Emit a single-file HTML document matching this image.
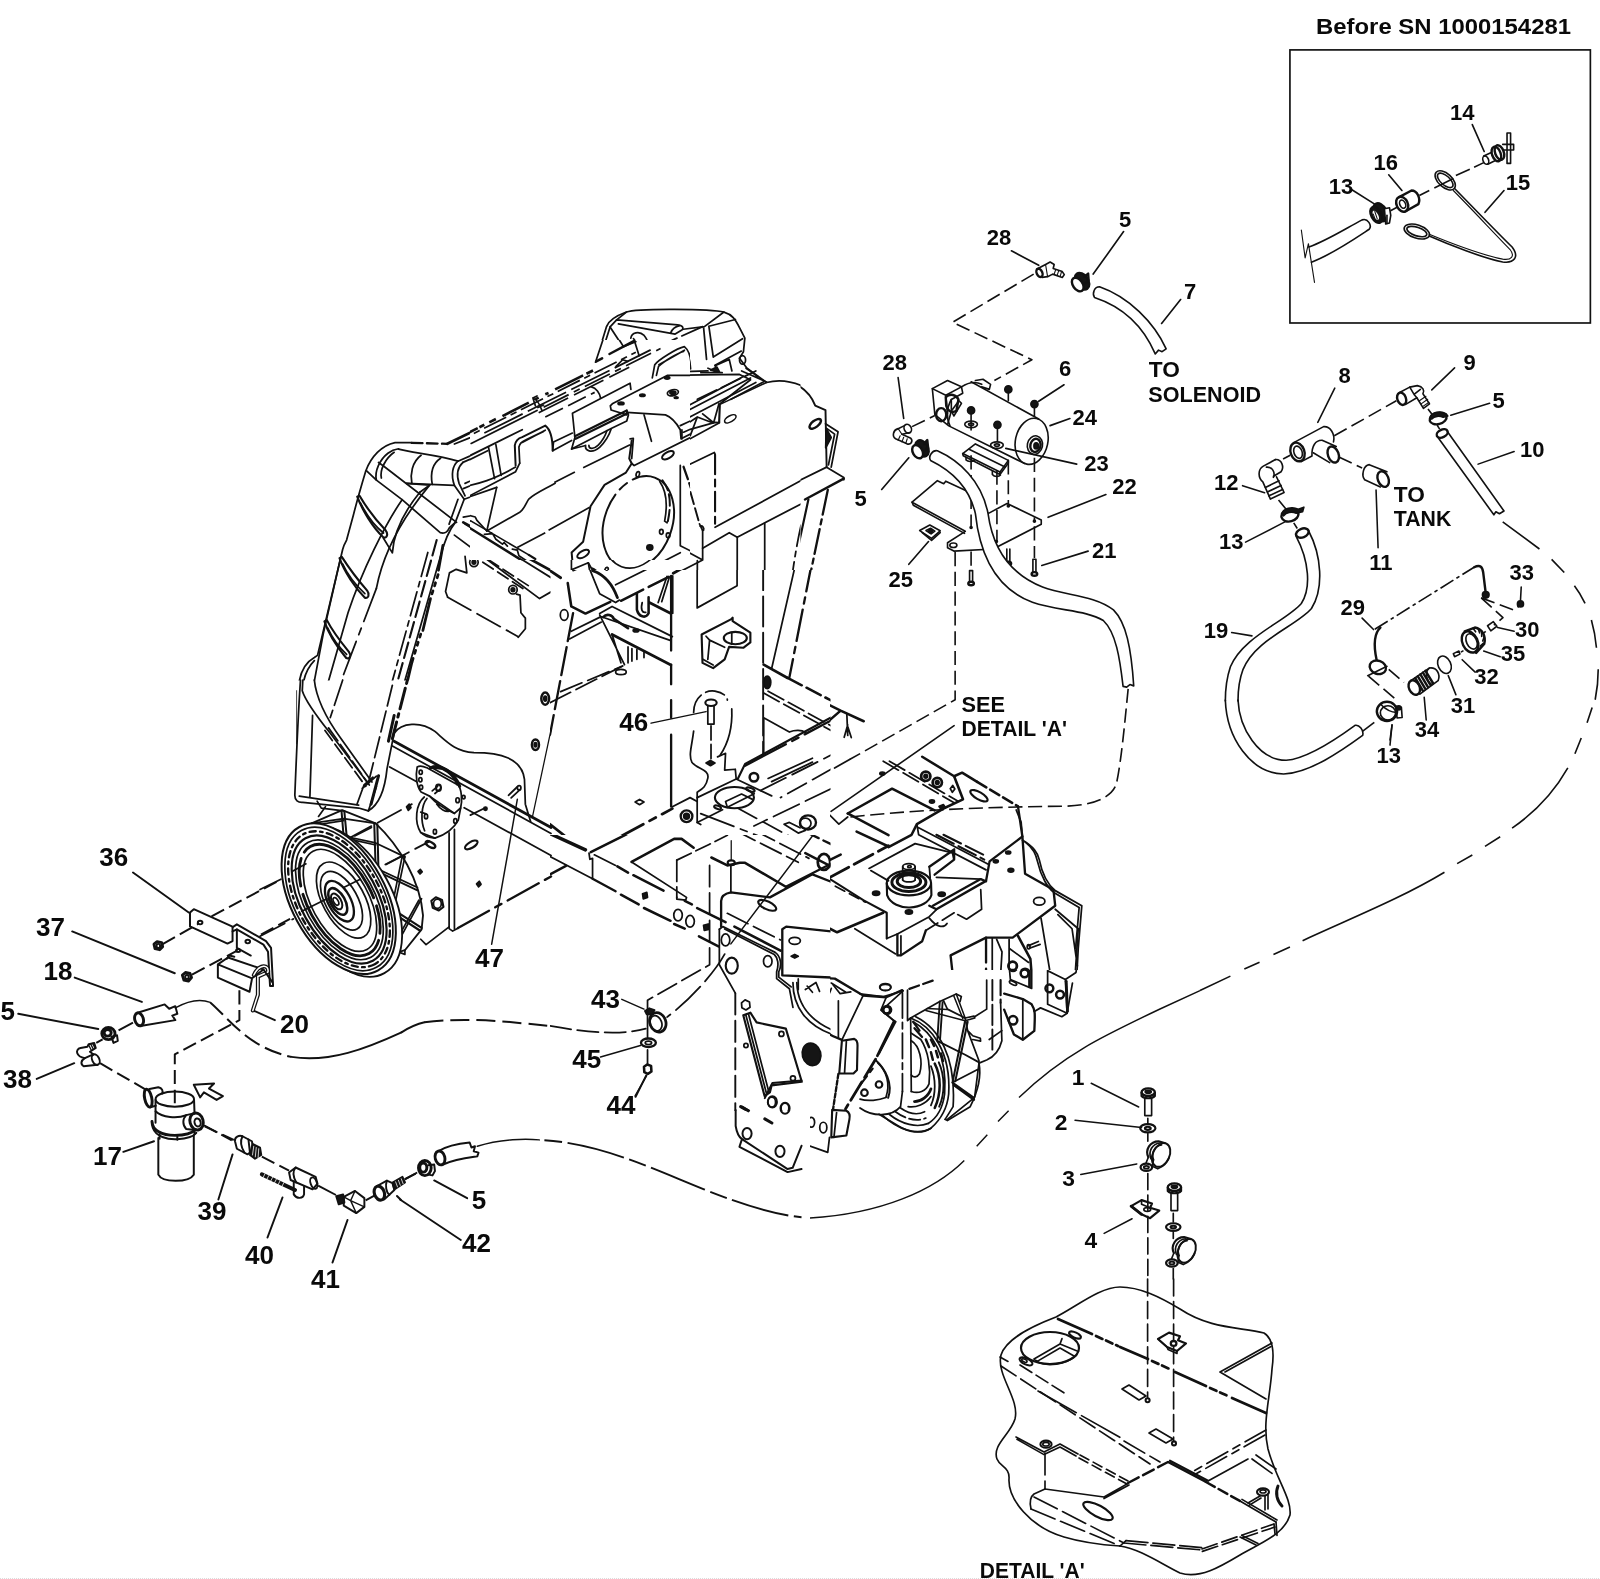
<!DOCTYPE html>
<html><head><meta charset="utf-8"><title>Parts diagram</title>
<style>
html,body{margin:0;padding:0;background:#fff;}
body{width:1600px;height:1579px;overflow:hidden;font-family:"Liberation Sans",sans-serif;}
svg{display:block;position:absolute;left:0;top:0;}
svg text{font-family:"Liberation Sans",sans-serif;font-weight:bold;fill:#0a0a0a;}
.t{fill:none;stroke:#111;stroke-width:6.4;stroke-linecap:round;stroke-linejoin:round;}
.t path,.t ellipse,.t rect,.t circle,.t line,.t polyline,.t polygon{vector-effect:none;}
.k{fill:#151515;}
.w{fill:#fff;}
.hv{stroke-width:9.6;}
.L{stroke-width:7.8;}
.L .hv{stroke-width:11.5;}
.L .th{stroke-width:5.5;}
.th{stroke-width:4.4;}
.d1{stroke-dasharray:56 22;stroke-linecap:butt;}
.d2{stroke-dasharray:42 12 10 12;stroke-linecap:butt;}
.ld{fill:none;stroke:#111;stroke-width:1.65;stroke-linecap:round;}
</style></head><body>
<svg width="1600" height="1579" viewBox="0 0 1600 1579">
<rect x="0" y="0" width="1600" height="1579" fill="#fff"/>
<!-- 00_defs.svg -->
<defs>
<clipPath id="cM1a"><path clip-rule="evenodd" d="M550.5,290 L800.5,290 L800.5,570 L550.5,570 Z M550.5,340 L690,340 L690,560 L550.5,560 Z"/></clipPath>
<clipPath id="cM2"><path clip-rule="evenodd" d="M260,395 L550.5,395 L550.5,680.5 L260,680.5 Z M470,395 L550.5,395 L550.5,560 L470,560 Z"/></clipPath>
<clipPath id="cM4"><rect x="550" y="570" width="280.5" height="265"/></clipPath>
<clipPath id="cM5"><rect x="550" y="835" width="280.5" height="276"/></clipPath>
<clipPath id="cM7"><rect x="830" y="700" width="281" height="270"/></clipPath>
<clipPath id="cM8"><path d="M830,970 L1090.5,970 L1090.5,1241 L810,1241 L810,1110.5 L830,1110.5 Z"/></clipPath>
<clipPath id="cM6"><rect x="800.5" y="355" width="110" height="215"/></clipPath>
<clipPath id="cM9"><rect x="470" y="340" width="220" height="220"/></clipPath>
</defs>

<!-- 10_inset.svg -->
<g class="t" transform="translate(1200,0) scale(0.253325)">
<rect x="355" y="197" width="1186" height="1078" stroke-width="6.6" stroke-linejoin="miter"/>
<!-- hose -->
<path d="M430,975 C500,950 570,905 640,868 C662,860 680,890 668,905 C600,950 520,1005 440,1035"/>
<path d="M400,908 L415,1018 L428,962 L452,1115" class="th"/>
<!-- clamp 13 -->
<ellipse cx="712" cy="838" rx="24" ry="38" transform="rotate(-28 712 838)" class="hv k"/>
<ellipse cx="696" cy="848" rx="20" ry="34" transform="rotate(-28 696 848)" class="hv k"/>
<ellipse cx="694" cy="850" rx="9" ry="20" transform="rotate(-28 694 850)" fill="#fff" stroke="none"/>
<path d="M690,835 L700,865 M684,845 L694,872" stroke="#111" stroke-width="4"/>
<path d="M728,824 L748,820 L753,850 L748,880 L733,884 Z" class="w"/>
<path d="M738,850 L738,882"/>
<!-- bushing 16 -->
<ellipse cx="798" cy="806" rx="22" ry="31" transform="rotate(-25 798 806)" class="hv"/>
<ellipse cx="800" cy="806" rx="11" ry="17" transform="rotate(-25 800 806)"/>
<path d="M786,778 L835,752 C858,752 872,785 862,806 L812,834" class="hv"/>
<!-- dashed axis -->
<path d="M752,832 L778,818 M866,772 L905,752 M925,742 L1000,705 M1010,693 L1065,668 M1082,660 L1120,642" stroke-linecap="butt"/>
<!-- ring 1 -->
<ellipse cx="968" cy="712" rx="48" ry="27" transform="rotate(42 968 712)"/>
<ellipse cx="968" cy="712" rx="38" ry="18" transform="rotate(42 968 712)"/>
<!-- cable -->
<path d="M1006,745 C1060,800 1180,925 1232,975 C1262,1015 1240,1040 1195,1034 C1120,1020 980,965 905,932"/>
<path d="M1000,752 C1060,812 1170,930 1224,985 C1245,1012 1228,1028 1195,1023 C1120,1008 985,958 905,925" class="th"/>
<!-- ring 2 -->
<ellipse cx="856" cy="914" rx="52" ry="26" transform="rotate(18 856 914)"/>
<ellipse cx="856" cy="914" rx="41" ry="17" transform="rotate(18 856 914)"/>
<!-- valve 14 -->
<ellipse cx="1128" cy="632" rx="11" ry="17" transform="rotate(-20 1128 632)"/>
<path d="M1120,616 L1150,602 M1136,648 L1166,634"/>
<ellipse cx="1170" cy="608" rx="17" ry="30" transform="rotate(-20 1170 608)" class="hv"/>
<ellipse cx="1182" cy="602" rx="17" ry="30" transform="rotate(-20 1182 602)" class="hv"/>
<path d="M1212,525 L1212,645 L1226,645 L1226,525 Z"/>
<path d="M1195,570 L1238,570 L1238,592 L1198,592"/>
</g>

<!-- 20_motor.svg -->
<g class="t" transform="translate(850,150) scale(0.253325)">
<!-- fitting 28 top -->
<ellipse cx="748" cy="485" rx="11" ry="17" transform="rotate(-25 748 485)" class="hv"/>
<path d="M738,470 L772,452 L790,442 L806,452 L802,468 L838,480 L846,492 L838,503 L800,490 L780,500 L758,503" />
<path d="M772,452 L780,500 M812,472 L806,490 M824,476 L818,494 M835,480 L830,498" class="th"/>
<!-- dashed zigzag -->
<path d="M725,490 L405,680 L718,828 L570,910" class="d1"/>
<!-- clamp 5 top -->
<ellipse cx="916" cy="518" rx="24" ry="36" transform="rotate(-35 916 518)" class="hv k"/>
<ellipse cx="899" cy="531" rx="19" ry="30" transform="rotate(-35 899 531)" class="hv w"/>
<path d="M925,500 L940,488 L942,515 L930,525" class="hv"/>
<!-- hose 7 -->
<path d="M1205,805 C1160,700 1080,620 965,582 C955,565 965,540 985,540 C1100,580 1200,680 1248,785 L1232,796 L1218,790 L1205,805"/>
<!-- motor body -->
<path d="M478,915 L745,1062" />
<path d="M388,1088 L690,1238" />
<ellipse cx="717" cy="1150" rx="64" ry="92" transform="rotate(12 717 1150)"/>
<ellipse cx="730" cy="1165" rx="30" ry="37" transform="rotate(12 730 1165)"/>
<ellipse cx="732" cy="1166" rx="20" ry="26" transform="rotate(12 732 1166)" class="hv"/>
<ellipse cx="735" cy="1168" rx="9" ry="12" class="k"/>
<!-- left end housing -->
<path d="M325,942 L385,910 L440,935 L445,960 L400,985 L400,1030 L385,1085 L335,1045 Z"/>
<path d="M325,942 L378,968 L440,935 M378,968 L385,1040"/>
<path d="M378,975 C395,960 420,965 428,985 L420,1030 C400,1040 385,1030 380,1010 Z" class="hv"/>
<ellipse cx="360" cy="1045" rx="20" ry="26" class="hv"/>
<path d="M400,1030 L430,990 L440,1000 L410,1050 Z"/>
<path d="M440,935 C470,915 500,915 520,925"/>
<path d="M495,910 L525,905 L555,925 L550,945 L520,935"/>
<path d="M400,985 C380,1020 380,1060 395,1090"/>
<!-- bolts 6 -->
<circle cx="625" cy="945" r="14" class="k"/><path d="M625,955 L625,990"/>
<circle cx="728" cy="1003" r="14" class="k"/><path d="M728,1012 L728,1050"/>
<circle cx="478" cy="1028" r="14" class="k"/><path d="M478,1040 L478,1105"/>
<circle cx="582" cy="1085" r="14" class="k"/><path d="M582,1095 L582,1150"/>
<!-- washers 23 -->
<ellipse cx="478" cy="1083" rx="25" ry="13"/><ellipse cx="478" cy="1083" rx="10" ry="5"/>
<ellipse cx="580" cy="1165" rx="25" ry="13"/><ellipse cx="580" cy="1165" rx="10" ry="5"/>
<!-- fitting 28 left -->
<ellipse cx="228" cy="1100" rx="14" ry="18" transform="rotate(-25 228 1100)"/>
<path d="M215,1088 L190,1100 C170,1105 165,1130 180,1140 L225,1160 C240,1165 250,1150 240,1138 L205,1122 L238,1115"/>
<path d="M190,1100 L205,1122 M198,1128 L190,1146 M212,1134 L205,1152 M226,1140 L220,1158" class="th"/>
<path d="M245,1092 L335,1048" class="d1"/>
<!-- clamp 5 left -->
<ellipse cx="284" cy="1178" rx="24" ry="34" transform="rotate(-30 284 1178)" class="hv k"/>
<ellipse cx="267" cy="1191" rx="19" ry="28" transform="rotate(-30 267 1191)" class="hv w"/>
<path d="M292,1160 L305,1145 L308,1172 L298,1185" class="hv"/>
</g>

<!-- 21_plate.svg -->
<g class="t" transform="translate(850,430) scale(0.253325)">
<!-- bracket under motor -->
<path d="M445,93 L495,55 L625,120 L592,166 Z" class="w"/>
<path d="M445,93 L447,102 L592,176 L592,166 M592,176 L625,130 L625,120"/>
<path d="M470,76 L612,146"/>
<path d="M458,108 L458,118 C466,126 482,126 490,120 L490,122"/>
<path d="M562,162 L562,176 C570,186 588,186 594,178"/>
<!-- plate 22 -->
<path d="M245,285 L345,200 L370,212 L378,202 L480,250 L545,330 L620,290 L755,355 L755,372 L565,470 L410,478 L385,465 L385,445 L455,400 Z" class="w"/>
<path d="M245,285 L250,297 L452,408"/>
<ellipse cx="408" cy="455" rx="14" ry="9"/>
<circle cx="478" cy="385" r="4" class="k"/><circle cx="578" cy="440" r="4" class="k"/><circle cx="625" cy="300" r="4" class="k"/><circle cx="728" cy="360" r="4" class="k"/>
<!-- clip 25 -->
<path d="M275,397 L315,375 L356,398 L322,428 Z"/>
<path d="M300,397 L318,388 L335,399 L320,410 Z"/><circle cx="318" cy="399" r="7" class="k"/>
<path d="M285,405 L322,436 L356,405"/>
<!-- screws 21 -->
<path d="M472,555 L472,600 M484,555 L484,600 M472,555 L484,555"/><ellipse cx="478" cy="606" rx="11" ry="7" class="hv"/>
<path d="M619,470 L619,522 M631,470 L631,522"/><ellipse cx="625" cy="527" rx="11" ry="7" class="hv"/>
<path d="M722,510 L722,562 M734,510 L734,562 M722,510 L734,510"/><ellipse cx="728" cy="568" rx="11" ry="7" class="hv"/>
<path d="M574,505 L574,540 M586,505 L586,540"/>
<!-- dashed verticals -->
<path d="M478,100 L478,385" class="d1"/>
<path d="M580,160 L580,440" class="d1"/>
<path d="M625,120 L625,300" class="d1"/>
<path d="M728,110 L728,355 M728,380 L728,505" class="d1"/>
<path d="M478,480 L478,555" class="d1"/>
<path d="M415,482 L415,1065 L0,1300" class="d1"/>
<!-- hose from motor -->
<path d="M1078,1012 C1065,900 1050,800 1000,752 C930,710 820,715 720,680 C560,620 510,470 495,330 C470,220 400,160 318,120 C308,105 325,78 345,82 C430,120 520,200 545,330 C560,440 610,560 760,620 C850,655 960,650 1040,710 C1090,760 1110,860 1120,1010 L1105,1005 L1092,1015 Z" class="w"/>
<!-- dashed from hose end -->
<path d="M1098,1022 C1085,1150 1072,1300 1052,1395 C1035,1455 950,1482 850,1485 C600,1488 300,1495 0,1528" class="d1"/>
<!-- see detail leader -->

</g>

<!-- 30_right.svg -->
<g class="t" transform="translate(1200,340) scale(0.253325)">
<!-- leaders -->
<path d="M1005,110 L915,197 M532,190 L465,325 M1143,250 L990,297 M1240,440 L1098,490 M168,575 L255,603 M180,798 L335,718 M695,592 L703,820 M1268,975 L1265,1030 M640,1098 L685,1143 M1240,1150 L1175,1135 M1185,1250 L1120,1228 M1085,1310 L1035,1262 M1010,1400 L980,1325 M893,1500 L885,1410 M125,1155 L205,1168 M758,1520 L750,1579" stroke-width="6.2"/>
<!-- tee 8 -->
<path d="M370,405 L488,342 C515,340 534,372 527,402"/>
<path d="M400,480 L442,458 C440,420 455,395 482,396 L538,420"/>
<path d="M447,445 L512,484"/>
<ellipse cx="385" cy="442" rx="27" ry="38" transform="rotate(-20 385 442)" class="hv"/>
<ellipse cx="387" cy="443" rx="16" ry="25" transform="rotate(-20 387 443)"/>
<ellipse cx="526" cy="452" rx="21" ry="33" transform="rotate(-20 526 452)" class="hv"/>
<!-- elbow 12 -->
<path d="M298,472 C322,470 334,500 320,520 L290,538"/>
<path d="M298,472 L250,498 C226,512 230,545 248,560 L278,628 L332,602 L302,540"/>
<path d="M262,502 C285,500 298,522 290,542"/>
<path d="M258,582 L312,556 M266,600 L320,574 M272,615 L326,590" />
<path d="M328,470 L356,455" stroke-linecap="butt"/>
<!-- dashed tee to 9 / 11 -->
<path d="M530,378 L775,240" class="d1"/>
<path d="M548,462 L640,505" class="d1"/>
<!-- tube 11 -->
<path d="M668,492 L738,520 M650,552 L712,580 M668,492 C645,495 636,535 650,552"/>
<ellipse cx="723" cy="549" rx="21" ry="32" transform="rotate(-22 723 549)" class="hv"/>
<!-- elbow 9 -->
<ellipse cx="796" cy="232" rx="17" ry="25" transform="rotate(-20 796 232)" class="hv"/>
<path d="M786,208 L828,186 L858,180 C880,184 888,200 880,212 L906,252 L882,270 L856,228 L812,254"/>
<path d="M828,186 L845,215 L856,228 M845,215 L870,195"/>
<path d="M866,240 L892,222 M873,252 L899,234 M880,262 L904,246" class="th"/>
<path d="M900,272 L915,292 M936,336 L946,352" stroke-linecap="butt"/>
<!-- clamp 5 -->
<ellipse cx="940" cy="310" rx="34" ry="22" transform="rotate(-15 940 310)" class="hv"/>
<path d="M908,305 C915,285 950,278 972,292 L978,300 L960,305 C945,298 925,300 915,312 Z" class="k"/>
<!-- tube 10 -->
<ellipse cx="956" cy="369" rx="23" ry="15" transform="rotate(-25 956 369)" class="hv"/>
<path d="M936,380 L1160,690 L1168,678 L1182,686 L1200,675 L977,362"/>
<!-- big dashed curve -->
<path d="M1195,718 L1340,825 M1388,866 L1438,918 M1478,970 C1495,992 1508,1015 1520,1040 M1545,1105 C1555,1140 1562,1180 1565,1215 M1572,1300 C1572,1340 1568,1380 1560,1420" stroke-linecap="butt"/>
<!-- hose 19 -->
<path d="M428,752 C480,850 490,980 440,1060 C380,1130 220,1180 170,1300 C155,1340 150,1380 150,1425"/>
<path d="M380,776 C430,870 440,980 400,1040 C340,1110 170,1170 120,1290 C105,1335 100,1380 100,1425"/>
<ellipse cx="404" cy="762" rx="26" ry="17" transform="rotate(-22 404 762)" class="hv"/>
<!-- clamp 13 upper -->
<ellipse cx="355" cy="692" rx="34" ry="24" transform="rotate(-15 355 692)" class="hv"/>
<path d="M322,685 C330,665 362,655 388,668 L410,660 L405,678 L380,684 C362,676 340,680 330,694 Z" class="k"/>
<path d="M310,632 L340,668 M370,722 L384,744" stroke-linecap="butt"/>
<!-- cable 29 -->
<path d="M690,1142 L1082,897" stroke-dasharray="60 14 14 14" stroke-linecap="butt"/>
<path d="M1082,897 C1108,884 1115,898 1118,918 L1128,1000" class="hv"/>
<circle cx="1128" cy="1006" r="13" class="k"/>
<path d="M712,1135 C685,1160 685,1205 697,1262" class="hv"/>
<ellipse cx="702" cy="1292" rx="33" ry="26" transform="rotate(20 702 1292)" class="hv"/>
<!-- 33 bracket dashes -->
<circle cx="1265" cy="1042" r="12" class="k"/>
<path d="M1110,1018 L1240,1066 L1262,1048" class="d1"/>
<path d="M1110,1018 L1196,1096 L1160,1126" class="d1"/>
<!-- 30 -->
<path d="M1135,1128 L1158,1112 L1172,1130 L1148,1148 Z"/>
<path d="M1128,1150 L1115,1160" stroke-linecap="butt"/>
<!-- nut 35 -->
<ellipse cx="1066" cy="1192" rx="30" ry="44" transform="rotate(-25 1066 1192)" class="hv"/>
<ellipse cx="1072" cy="1190" rx="20" ry="32" transform="rotate(-25 1072 1190)"/>
<path d="M1045,1150 L1085,1135 C1115,1140 1130,1170 1122,1200 L1090,1235" class="hv"/>
<path d="M1060,1145 L1068,1160 M1078,1138 L1088,1152 M1098,1140 L1104,1156 M1112,1152 L1112,1170 M1122,1172 L1116,1188 M1118,1198 L1106,1208" />
<!-- 32 pin -->
<path d="M1000,1238 L1022,1228 L1026,1240 L1005,1250 Z"/>
<path d="M1030,1232 L1040,1226" stroke-linecap="butt"/>
<!-- o-ring 31 -->
<ellipse cx="965" cy="1282" rx="25" ry="36" transform="rotate(-25 965 1282)"/>
<!-- fitting 34 -->
<ellipse cx="846" cy="1372" rx="21" ry="30" transform="rotate(-25 846 1372)" class="hv"/>
<path d="M832,1345 L905,1295 C935,1290 950,1320 940,1345 L868,1398"/>
<path d="M850,1335 L880,1385 M860,1328 L890,1378 M870,1320 L900,1370 M880,1313 L910,1362 M890,1306 L920,1355" class="hv"/>
<path d="M905,1295 C885,1310 895,1350 915,1360"/>
<!-- ring to fitting dashes -->
<path d="M745,1300 L805,1352" class="d1"/>
<path d="M738,1288 L662,1325" />
<path d="M665,1327 L780,1425" class="d1"/>
<!-- clamp 13 lower -->
<ellipse cx="738" cy="1466" rx="40" ry="38" class="hv"/>
<ellipse cx="742" cy="1472" rx="30" ry="28"/>
<path d="M772,1445 L795,1450 L798,1490 L778,1492 Z"/>
<circle cx="785" cy="1452" r="8" class="k"/>
<path d="M715,1440 C735,1460 755,1470 775,1470" />
<!-- hose end -->

</g>

<!-- 31_right_low.svg -->
<g class="t" transform="translate(1200,700) scale(0.253325)">
<path d="M100,0 C105,150 200,290 330,292 C430,290 560,200 642,140 C648,120 628,96 612,100 C530,160 420,232 340,238 C230,238 155,110 150,0"/>
<path d="M640,125 L688,88" stroke-linecap="butt"/>
<path d="M758,98 L750,178" stroke-width="6.2"/>
<path d="M1548,30 L1528,90 M1505,150 L1480,212 M1452,268 C1400,360 1320,445 1232,506 M1185,540 L1125,578 M1075,612 L1015,646 M965,680 C800,780 600,860 405,950 M355,975 L290,1005 M235,1035 L175,1062 M120,1090 L0,1147" stroke-linecap="butt"/>
</g>

<!-- 35_curve.svg -->
<g class="ld" style="stroke-width:1.45;stroke-linecap:butt">
<path d="M1200,990.6 L1160,1009 C1120,1028 1100,1038 1084,1047.8 C1060,1062 1035,1082 1019,1097.5"/>
<path d="M1008.6,1110.7 L998,1121.4 M987.3,1134.7 L976.7,1146.2"/>
<path d="M964.3,1160.4 C934,1190.5 881,1213.6 810,1218"/>
</g>

<!-- 36_leaders.svg -->
<g class="ld">
<path d="M1472.3,124.6 L1484.2,151.5 M1388.7,174.8 L1401.9,190.5 M1351.5,189.5 L1374.3,203.9 M1504,190.5 L1485,212.3"/>
<path d="M1011.4,250.8 L1038.7,265.3 M1123.6,231.6 L1093.2,274.1 M1180.6,299.5 L1161.6,323.5 M898.1,377.5 L903.7,418.5 M1064,384.8 L1038.7,401.3 M1069.9,418.5 L1050.1,425.6 M1076.7,464.1 L1005.8,448.4 M1105.9,494.5 L1048.1,517.3 M881.7,489.5 L908.8,457.8 M1088.1,551.1 L1041.8,565.5 M908.8,564.3 L928.5,541.5"/>
<path style="stroke-width:2" d="M267.5,1237.5 L282.5,1197.5 M332.5,1262.5 L347.5,1220 M397,1196 L401,1200"/>
<path d="M401.5,1032.3 C410,1027 417,1024 424.5,1022.3" style="stroke-width:2"/>
<path d="M424.5,1022.3 C450,1019 480,1019.5 510,1022 C530,1024 540,1025 550,1026" stroke-dasharray="19 7" style="stroke-linecap:butt;stroke-width:2"/>
</g>

<!-- 40_leftlow.svg -->
<g class="t L" transform="translate(0,820) scale(0.253325)">
<!-- leaders -->
<path d="M525,207 L745,365 M285,440 L690,605 M295,622 L560,718 M72,765 L388,825 M145,1022 L293,960 M487,1310 L608,1268 M1085,790 L1000,752 M862,1498 L918,1320" stroke-width="7.6"/>
<!-- bracket 36 -->
<path d="M750,365 L765,352 L920,422 L935,412 L1050,478 L1070,505 L1078,655 L1066,655 L1058,520 L1040,492 L935,432 L918,440 L918,478 L898,488 L750,420 Z"/>
<path d="M918,440 L918,422 M935,432 L935,505 L990,535"/>
<ellipse cx="790" cy="405" rx="9" ry="7"/><ellipse cx="978" cy="480" rx="9" ry="7"/><ellipse cx="940" cy="515" rx="8" ry="6"/>
<!-- dashes to wheel -->
<path d="M835,380 L1110,235" class="d1"/>
<path d="M1030,452 L1145,390" class="d1"/>
<path d="M642,490 L782,410" class="d1"/>
<path d="M758,610 L938,515" class="d1"/>
<!-- nuts 37 -->
<path d="M608,490 L620,480 L638,484 L642,500 L630,512 L612,508 Z" class="hv"/><ellipse cx="625" cy="497" rx="7" ry="8"/>
<path d="M720,612 L732,602 L750,606 L756,622 L744,636 L726,632 Z" class="hv"/><ellipse cx="738" cy="620" rx="7" ry="8"/>
<!-- box 20 -->
<path d="M860,570 L900,543 L1040,590 L995,625 Z M860,570 L860,622 L985,678 L995,625"/>
<path d="M895,548 L905,535 L925,540"/>
<path d="M1002,612 C1025,565 1062,570 1058,600 L1018,618 L1018,690 L998,752" stroke-width="16"/>
<path d="M1002,612 C1025,565 1062,570 1058,600 L1018,618 L1018,690 L998,752" stroke="#fff" stroke-width="6"/>
<path d="M1040,590 L1075,640" />
<!-- dashed from box to filter -->
<path d="M945,672 L945,790 L690,925 L690,1118" class="d1"/>
<!-- hose 18 -->
<path d="M540,762 L650,728 L668,745 L692,735 L700,765 L680,772 L692,790 L560,812"/>
<ellipse cx="549" cy="787" rx="17" ry="26" transform="rotate(-15 549 787)" class="hv"/>
<path d="M692,742 C740,715 790,705 830,720" class="th" stroke-width="4.5"/>
<path d="M830,720 C900,780 980,900 1150,935" stroke-dasharray="70 24" stroke-linecap="butt"/>
<path d="M1150,935 C1300,960 1450,900 1585,838"/>
<path d="M525,800 L468,830 M405,866 L380,880" stroke-linecap="butt"/>
<!-- clamp 5 -->
<ellipse cx="428" cy="843" rx="26" ry="24" class="hv"/>
<ellipse cx="425" cy="840" rx="14" ry="13" class="hv"/>
<path d="M440,855 L462,850 L465,872 L448,880 Z"/>
<!-- elbow 38 -->
<ellipse cx="378" cy="946" rx="14" ry="22" transform="rotate(-25 378 946)"/>
<path d="M368,925 L335,940 C318,950 318,965 330,972 L385,966"/>
<path d="M335,940 C300,935 295,905 318,900 L345,895 L350,885 L372,880 L378,900 L355,915 L368,925"/>
<path d="M350,888 L360,908 M358,884 L368,904 M366,882 L375,900" class="th"/>
<!-- dashed to filter -->
<path d="M395,960 L572,1062" class="d1"/>
<!-- filter 17 -->
<ellipse cx="690" cy="1102" rx="76" ry="30"/>
<path d="M614,1105 L614,1195 M766,1105 L768,1160 M768,1225 L768,1240"/>
<path d="M600,1190 C600,1225 640,1245 690,1245 C730,1245 760,1235 772,1222" class="hv"/>
<path d="M600,1190 L603,1215 C615,1250 660,1262 700,1260 C740,1258 765,1248 775,1235"/>
<path d="M625,1255 L625,1400 C640,1432 745,1432 765,1400 L765,1245"/>
<path d="M630,1240 L630,1258 M700,1248 L700,1262"/>
<path d="M614,1150 C640,1175 700,1180 735,1165"/>
<!-- left port -->
<ellipse cx="585" cy="1098" rx="14" ry="36" transform="rotate(-12 585 1098)" class="hv"/>
<path d="M590,1062 L625,1055 C640,1058 645,1070 640,1080 M592,1134 L615,1128"/>
<!-- right port -->
<ellipse cx="776" cy="1190" rx="26" ry="34" transform="rotate(-15 776 1190)" class="hv"/>
<ellipse cx="780" cy="1194" rx="12" ry="16" transform="rotate(-15 780 1194)"/>
<path d="M765,1158 L735,1165 C720,1180 720,1205 735,1220 L770,1224"/>
<!-- arrow -->
<path d="M765,1045 L845,1040 L825,1060 L880,1090 L855,1105 L805,1075 L790,1095 Z"/>
<!-- dashes to 39 -->
<path d="M805,1205 L915,1265" class="d1"/>
</g>

<!-- 41_l2.svg -->
<g class="t L" transform="translate(400,1050) scale(0.253325)">
<path d="M135,515 L265,585 M0,590 L240,750 M930,185 L972,100" stroke-width="7.6"/>
<!-- hose piece -->
<path d="M150,400 C190,375 240,368 275,365 L282,385 L296,380 L291,400 L310,405 L305,420 C270,425 220,430 170,452"/>
<ellipse cx="158" cy="426" rx="19" ry="28" transform="rotate(-15 158 426)" class="hv"/>
<path d="M305,380 C400,350 500,350 550,355" class="th" stroke-width="4.5"/>
<path d="M570,356 C800,372 1000,470 1200,550 C1350,610 1480,650 1585,660" stroke-dasharray="70 22 230 22" stroke-linecap="butt"/>
<!-- clamp 5 -->
<ellipse cx="98" cy="466" rx="25" ry="30" class="hv"/>
<ellipse cx="92" cy="464" rx="14" ry="18" class="hv"/>
<path d="M112,455 L135,452 L138,478 L128,495 L112,492"/>
<path d="M62,488 L20,510" stroke-linecap="butt"/>

<!-- side plate lower -->
<g>
<path d="M1325,237 L1325,300 C1330,330 1340,345 1350,352 L1530,470 L1550,465 L1585,378"/>
<path d="M1350,352 L1340,382 L1530,482 L1585,470"/>
<ellipse cx="1370" cy="330" rx="18" ry="22"/><ellipse cx="1500" cy="400" rx="18" ry="22"/>
<ellipse cx="1470" cy="205" rx="18" ry="22"/><ellipse cx="1520" cy="230" rx="18" ry="22"/>
<path d="M1350,225 L1375,240 M1440,272 L1468,288" stroke-width="12"/>
<path d="M1440,190 L1455,160 L1470,130 L1585,120"/>
</g>
</g>

<!-- 42_fittings.svg -->
<g class="t" transform="translate(0,1080) scale(0.3125)" style="stroke-width:6.2">
<!-- dashes -->
<path d="M655,148 L748,192" stroke-dasharray="45 18" stroke-linecap="butt"/>
<path d="M838,245 L925,290" stroke-dasharray="45 18" stroke-linecap="butt"/>
<path d="M1018,338 L1075,368" stroke-linecap="butt"/>
<path d="M1170,385 L1198,370 M1295,318 L1335,296" stroke-linecap="butt"/>
<!-- 39 -->
<path d="M752,196 C750,182 765,176 776,180 L806,196 L812,224 L792,238 L758,220 Z"/>
<path d="M776,180 C768,195 772,215 782,232 M795,190 L800,234"/>
<path d="M808,204 L832,216 L836,240 L816,252 L800,240 Z" class="k"/>
<path d="M812,212 L808,240 M820,216 L817,246 M828,220 L826,248" stroke="#fff" style="stroke-width:2.5"/>
<!-- 40 -->
<path d="M925,296 L946,280 L1010,310 L1016,332 L1000,350 L930,320 Z"/>
<path d="M946,280 C936,292 938,310 948,328"/>
<ellipse cx="1004" cy="330" rx="10" ry="19" transform="rotate(-20 1004 330)"/>
<path d="M940,326 L940,366 C950,382 970,380 973,366 L973,340"/>
<path d="M838,302 L944,352" style="stroke-width:13"/>
<path d="M848,300 L842,312 M860,306 L854,318 M872,312 L866,324 M884,318 L878,330 M896,323 L890,335 M908,329 L902,341" stroke="#fff" style="stroke-width:2.5"/>
<!-- 41 -->
<path d="M1100,374 L1136,355 L1166,378 L1166,406 L1140,426 L1100,402 Z"/>
<path d="M1136,355 L1122,386 L1140,426 M1122,386 L1100,374 M1122,386 L1166,406" class="th"/>
<path d="M1076,372 L1098,366 L1102,392 L1084,398 Z" class="k"/>
<!-- 42 -->
<ellipse cx="1214" cy="362" rx="16" ry="23" transform="rotate(-20 1214 362)" style="stroke-width:10"/>
<path d="M1205,340 L1238,322 L1256,330 L1262,352 L1230,382 L1222,384"/>
<path d="M1238,322 C1232,338 1236,360 1246,368"/>
<path d="M1256,328 L1288,310 L1296,328 L1262,350 Z" class="k"/>
<path d="M1266,326 L1272,342 M1275,321 L1281,337 M1284,316 L1290,332" stroke="#fff" style="stroke-width:2.5"/>
</g>

<!-- 50_m1a.svg -->
<g clip-path="url(#cM1a)">
<g class="t" transform="translate(520,300) scale(0.177327)" style="stroke-width:9.8">
<!-- hood -->
<path d="M428,345 L488,150 C500,115 540,90 600,68 C660,45 1080,50 1150,68 C1195,80 1215,110 1240,160 L1268,215 L1260,292 L1238,328"/>
<path d="M448,340 L508,152 L545,112 L890,140 C915,142 925,155 915,168 L875,192 L555,135"/>
<path d="M508,152 L580,262 M850,185 C858,165 878,150 900,145"/>
<path d="M625,215 C630,185 670,172 700,200 C722,225 730,262 735,278 M640,218 C660,235 665,285 670,312"/>
<path d="M497,310 L650,236" stroke-width="15"/>
<path d="M600,68 L545,112 M1150,68 L1040,150 L920,165 M1035,152 L1052,335 M1065,148 L1090,322 M1065,148 L1215,110 M1090,322 L1255,218 M1100,368 L1248,288"/>
<ellipse cx="1255" cy="338" rx="17" ry="24"/>
<path d="M1100,370 L1180,335 L1195,400 M1060,385 L1120,410 L1100,370 M1020,410 L1140,410 M1238,328 L1280,385 L1390,465"/>
<path d="M1075,395 L1110,378 L1125,405 Z" class="k"/>
<!-- slot 2 -->
<path d="M755,440 L770,358 C790,338 880,272 920,262 C945,290 960,340 962,388"/>
<path d="M780,422 L792,368 C820,345 890,298 915,292 M790,350 L920,282"/>
<!-- rails phantom -->
<path d="M0,580 L470,335" stroke-width="13" stroke-dasharray="70 30 20 30 150 35 25 20"/>
<path d="M0,612 L1030,150" stroke-dasharray="160 30 30 30"/>
<path d="M0,645 L890,245" stroke-dasharray="120 30"/>
<path d="M0,680 L760,335" stroke-dasharray="200 30 30 30"/>
<path d="M120,660 L740,380" />
<path d="M95,585 L420,440 M120,620 L440,475"/>
<path d="M75,555 C95,565 110,600 120,625 M420,482 C440,500 450,540 455,562 M455,562 L625,470 L625,560"/>
<path d="M300,640 L620,470 M300,640 L315,790 L600,640 M290,830 L315,790 M290,850 L380,800 L600,660"/>
<path d="M330,770 L590,635" stroke-width="14"/>
<path d="M370,810 C360,850 400,870 430,850 C470,820 500,770 510,725 M385,820 C390,840 420,845 440,825 C470,795 485,760 492,735"/>
<!-- left slot -->
<path d="M0,762 L130,700 C162,730 180,790 185,850 L185,800 M0,788 L118,730 M0,810 L125,750"/>
<path d="M185,850 L300,790 M0,900 L185,810 M185,850 L640,625"/>
<!-- top bracket plate -->
<path d="M505,597 L830,425 L1238,420 L1300,450 L1128,585 L1122,692 L1100,690 L905,745 L885,695 C870,662 850,646 830,642 L620,640 L600,655 L512,618 Z" class="w"/>
<path d="M830,425 L880,405 L1060,400"/>
<ellipse cx="570" cy="590" rx="16" ry="8" class="k"/><ellipse cx="695" cy="540" rx="14" ry="7" class="k"/><ellipse cx="830" cy="438" rx="14" ry="6" class="k"/>
<ellipse cx="860" cy="520" rx="32" ry="17" transform="rotate(-12 860 520)"/><ellipse cx="860" cy="520" rx="18" ry="9" transform="rotate(-12 860 520)" class="k"/><ellipse cx="880" cy="550" rx="12" ry="5" class="k"/>
<path d="M885,655 L1300,440 M920,680 L1330,465 M900,622 L1262,430" />
<path d="M1000,560 L1330,400" stroke-dasharray="120 30"/>
<path d="M1190,560 L1372,462 M1250,400 L1390,462 M1275,385 L1340,430"/>
<path d="M905,745 L940,700 L940,775 M960,765 L1000,660 L1085,692 M1030,642 L1092,692 L1122,585 M940,700 L1000,660"/>
<path d="M695,650 L745,790 M600,655 L605,700 L625,800 L640,770 L650,790"/>
<!-- plate top edge & panel -->
<path d="M625,800 L600,900 L615,925 L590,975 L460,1050 L290,1420 L290,1522 L385,1482 L402,1579" stroke-width="9.5"/>
<path d="M640,875 L905,748 L905,812 L1125,692 L1125,590 L1390,465 C1450,450 1520,455 1585,482" stroke-width="9"/>
<path d="M905,945 L905,1398 L1030,1466 L1030,1300 M1030,1466 L800,1585"/>
<path d="M920,945 L1096,860 L1100,872 M920,945 L935,1020"/>
<path d="M1100,872 L1100,1282" stroke-width="12" stroke-dasharray="110 30 40 30"/>
<path d="M935,992 L1012,1262" stroke-width="11" stroke-dasharray="70 25"/>
<path d="M1012,1262 L1030,1300 M1015,1275 C1030,1270 1040,1285 1035,1298"/>
<path d="M1100,1282 L1585,1018"/>
<path d="M1030,1400 L1180,1312 L1225,1338 L1585,1150" stroke-width="10"/>
<path d="M1225,1338 L1225,1585 M1380,1260 L1380,1585"/>
<path d="M1585,1270 C1560,1380 1545,1480 1530,1585" stroke-dasharray="120 30 30 30" stroke-width="10"/>
<path d="M1000,1470 L1000,1585"/>
<!-- holes -->
<ellipse cx="838" cy="875" rx="36" ry="17" transform="rotate(-30 838 875)" stroke-width="9"/>
<ellipse cx="1186" cy="670" rx="36" ry="17" transform="rotate(-30 1186 670)" stroke-width="9"/>
<ellipse cx="355" cy="1425" rx="36" ry="17" transform="rotate(-30 355 1425)" stroke-width="9"/>
<ellipse cx="662" cy="985" rx="9" ry="15" transform="rotate(15 662 985)"/>
<ellipse cx="488" cy="1522" rx="9" ry="15" transform="rotate(15 488 1522)"/>
<ellipse cx="800" cy="1305" rx="10" ry="14"/><ellipse cx="836" cy="1326" rx="10" ry="14"/>
<ellipse cx="735" cy="1398" rx="18" ry="14" class="k"/>
<!-- big circle -->
<ellipse cx="665" cy="1250" rx="185" ry="270" transform="rotate(20 665 1250)" stroke-width="9"/>
<path d="M810,1020 C855,1070 872,1160 850,1240" stroke-dasharray="60 20"/>
<path d="M830,1120 L815,1262"/>
<!-- phantom lower-left -->
<path d="M0,1015 L600,758" stroke-dasharray="130 40"/>
<path d="M0,1330 L390,1165" stroke-dasharray="260 40 40 40"/>
<path d="M0,1195 C20,1150 40,1110 90,1085 L130,1060"/>
<path d="M0,1400 L60,1440 M0,1470 L240,1579" />
<path d="M60,1480 L230,1565" stroke-width="13"/>
<path d="M385,1482 L440,1579 M402,1510 C430,1520 455,1550 465,1585"/>
</g>
</g>

<!-- 51_m2.svg -->
<g clip-path="url(#cM2)">
<g class="t" transform="translate(270,400) scale(0.177327)" style="stroke-width:9.8">
<!-- outer left edge -->
<path d="M165,1585 C175,1530 200,1480 250,1452 L268,1440 L410,842 L418,818 L432,790 L470,650 C485,590 510,500 540,400 C570,320 630,255 705,240 L800,240"/>
<path d="M800,242 L1000,247" style="stroke-width:13.2" stroke-dasharray="60 25"/>
<path d="M1000,247 L1460,22" style="stroke-width:15.6"/>
<path d="M1040,248 L1585,28 M1060,345 L1585,120"/>
<path d="M1180,178 L1585,-5" style="stroke-width:14.4" stroke-dasharray="90 30 30 30"/>
<path d="M250,1585 L300,1320 L398,892 M190,1585 C200,1540 220,1500 250,1470"/>
<!-- vents -->
<path d="M492,545 C520,620 580,720 640,775 C660,782 668,755 652,735 C600,680 540,600 505,540 Z" style="stroke-width:12.0"/>
<path d="M510,580 C545,650 590,710 640,750" />
<path d="M392,892 C420,970 480,1060 535,1115 C555,1122 564,1095 548,1075 C500,1020 440,940 405,885 Z" style="stroke-width:12.0"/>
<path d="M410,925 C440,990 490,1050 535,1092"/>
<path d="M307,1248 C330,1320 385,1400 430,1455 C450,1464 460,1440 445,1420 C400,1365 350,1300 320,1240 Z" style="stroke-width:12.0"/>
<path d="M325,1285 C350,1340 390,1395 432,1435"/>
<!-- bend top -->
<path d="M600,452 C588,400 620,335 665,300 C685,285 705,278 725,275 M628,440 C618,395 650,330 700,295"/>
<path d="M725,277 C800,298 950,310 1060,345"/>
<path d="M770,470 L1040,482"/>
<path d="M852,312 C800,350 790,420 800,470 M962,328 C910,362 905,420 915,476"/>
<path d="M1060,345 C1030,370 1018,420 1040,482 L1095,560 M1088,352 C1058,380 1050,420 1066,470 L1100,540"/>
<path d="M1088,352 L1400,215 C1385,240 1378,290 1390,342 L1100,470"/>
<path d="M1420,222 C1405,250 1402,290 1410,330 L1585,255 M1400,215 L1585,135 M1430,235 L1585,165"/>
<path d="M1240,290 L1272,452 M1275,278 L1306,440"/>
<path d="M1090,500 L1400,372 L1585,298"/>
<path d="M1585,476 L1455,555 C1435,580 1430,605 1400,622 L1240,715 L1215,740 L1280,492 L1095,560"/>
<!-- diagonal bar -->
<path d="M545,400 L600,452 L745,562 L960,748 C990,757 1002,742 1012,720 L1045,690"/>
<path d="M640,372 L1052,690 M612,352 L640,372"/>
<path d="M770,470 L900,480 M845,520 L900,480"/>
<!-- hood ridges -->
<path d="M900,480 C800,600 650,800 600,1062"/>
<path d="M600,1062 L415,1548" stroke-dasharray="200 40 40 40"/>
<path d="M745,562 C650,700 520,960 440,1200 L330,1585"/>
<path d="M690,862 L640,780 M845,520 C780,600 700,720 690,862"/>
<!-- right edge of hood going down -->
<path d="M1095,560 L1045,690 C1005,740 985,790 962,880 L760,1585"/>
<path d="M1060,560 L1010,700"/>
<path d="M940,790 L720,1585" stroke-dasharray="90 30" style="stroke-width:12.0"/>
<path d="M890,860 L690,1585" stroke-dasharray="140 30 30 30"/>
<path d="M975,820 L950,960" style="stroke-width:15.6"/>
<path d="M948,985 L905,1120" style="stroke-width:15.6" stroke-dasharray="18 30"/>
<path d="M905,1120 L862,1300" style="stroke-width:15.6"/>
<path d="M850,1320 L800,1480" style="stroke-width:15.6" stroke-dasharray="18 30"/>
<path d="M800,1480 L775,1585" style="stroke-width:15.6"/>
<!-- side panel right -->
<path d="M1100,882 L1110,975 L1050,955 L1012,975 L990,1080 L1002,1112"/>
<path d="M1002,1112 L1400,1335" stroke-dasharray="150 40"/>
<path d="M1400,1338 L1440,1290 L1440,1230 L1415,1200 L1410,1100 L1390,1095"/>
<circle cx="1150" cy="915" r="24"/><circle cx="1150" cy="915" r="10" class="k"/>
<circle cx="1370" cy="1070" r="24"/><circle cx="1370" cy="1070" r="10" class="k"/>
<path d="M1040,762 L1520,1120 L1585,1082 M1100,700 L1585,1002" />
<path d="M1090,690 L1585,962" style="stroke-width:15.6"/>
<path d="M1230,900 L1480,1062 M1200,915 L1440,1072" stroke-dasharray="70 30"/>
<path d="M1090,660 L1150,650 L1170,700 L1215,740 M1170,700 L1250,800 L1320,800 L1340,850 L1400,850 L1420,900"/>
<path d="M1380,840 L1585,735" stroke-dasharray="200 40"/>
</g>
</g>

<!-- 52_m3.svg -->
<g class="t" transform="translate(270,680) scale(0.177327)" style="stroke-width:9.8">
<!-- hood lower-left -->
<path d="M172,0 C165,100 150,400 140,650 C140,680 158,692 185,690 L500,722 L555,738"/>
<path d="M165,655 L250,668 L500,706 M240,200 L225,660"/>
<path d="M185,0 L182,60 C200,120 260,200 340,300 L560,592 M250,0 C260,100 320,220 400,330 L575,575"/>
<path d="M310,285 L540,600" stroke-dasharray="70 25"/>
<path d="M330,270 L555,585" stroke-dasharray="90 25"/>
<path d="M490,702 L530,592 L580,548 M520,612 L600,542 M555,738 L600,600"/>
<path d="M555,738 C620,700 650,600 660,500 L700,300"/>
<path d="M700,300 C740,240 850,230 930,290 C1000,350 1040,400 1150,410 C1300,410 1420,440 1435,560 L1440,700 L1470,800"/>
<path d="M775,0 L690,330" style="stroke-width:16.8" stroke-dasharray="20 28 120 28"/>
<path d="M700,200 L668,345 M612,540 L570,700" style="stroke-width:16.8"/>
<path d="M690,30 L560,560" stroke-dasharray="120 30"/>
<path d="M410,0 L340,212" stroke-dasharray="150 30"/>
<path d="M150,60 L150,360" class="th"/>
<!-- rail -->
<path d="M700,345 L1585,832" style="stroke-width:15.6"/>
<path d="M690,372 L1585,865 M675,490 L830,575 M1095,720 L1585,990"/>
<!-- pulley plate -->
<path d="M830,490 C850,478 870,488 885,495 L1060,592 C1080,612 1086,680 1075,722 L1040,752 L900,655 L852,632 C826,600 820,540 830,490 Z" class="w"/>
<ellipse cx="850" cy="520" rx="9" ry="12"/><ellipse cx="848" cy="562" rx="9" ry="12"/><ellipse cx="852" cy="605" rx="9" ry="12"/><ellipse cx="1058" cy="678" rx="10" ry="14"/><ellipse cx="1092" cy="660" rx="8" ry="10"/>
<path d="M905,495 C960,470 1040,520 1070,600" style="stroke-width:16.8"/>
<path d="M930,500 C975,490 1030,530 1055,590"/>
<path d="M870,660 C822,700 812,800 850,860 L930,892 C990,872 1040,832 1062,790 L1075,722"/>
<path d="M885,668 C850,710 850,800 872,850 M850,860 C870,880 900,890 930,892"/>
<path d="M900,655 C940,700 990,730 1040,752 M940,700 C960,730 990,745 1010,740" />
<ellipse cx="880" cy="770" rx="9" ry="13"/><ellipse cx="930" cy="856" rx="9" ry="13"/><ellipse cx="1045" cy="795" rx="9" ry="13"/>
<path d="M915,625 L945,600 M930,640 L960,615"/><ellipse cx="950" cy="608" rx="14" ry="18" style="stroke-width:12.0"/>
<path d="M850,745 L880,755"/>
<!-- dashed axes -->
<path d="M440,895 L800,700" stroke-dasharray="150 40"/>
<path d="M650,1040 L900,910" stroke-dasharray="150 40"/>
<path d="M1130,762 L1215,720" />
<path d="M770,715 L785,700 L795,720 L780,735 Z" class="k"/><circle cx="1215" cy="726" r="9" class="k"/>
<!-- chassis box -->
<path d="M1010,862 L1010,1402 L1030,1416 L1060,1400 M1040,842 L1040,1402"/>
<path d="M1060,1398 L1585,1108" style="stroke-width:13.2" stroke-dasharray="200 40 40 40"/>
<path d="M1010,1392 L880,1492 L850,1462"/>
<ellipse cx="905" cy="928" rx="30" ry="14" transform="rotate(30 905 928)" style="stroke-width:13.2"/>
<ellipse cx="1135" cy="930" rx="40" ry="17" transform="rotate(-30 1135 930)" style="stroke-width:12.0"/>
<path d="M835,1080 L848,1068 L858,1082 L846,1094 Z" class="k"/><path d="M1165,1150 L1180,1135 L1190,1152 L1176,1166 Z" class="k"/>
<path d="M910,1245 L935,1225 L970,1240 L978,1280 L952,1300 L918,1285 Z" style="stroke-width:12.0"/><ellipse cx="944" cy="1262" rx="22" ry="26"/>
<!-- 47 leader and pin -->
<path d="M1250,1490 L1395,672" style="stroke-width:8.4"/>
<path d="M1345,650 L1395,602 M1360,665 L1410,618"/><ellipse cx="1405" cy="608" rx="10" ry="13"/>
<ellipse cx="1552" cy="105" rx="22" ry="34" style="stroke-width:14"/><ellipse cx="1552" cy="105" rx="8" ry="14" class="k"/><ellipse cx="1497" cy="365" rx="20" ry="30" style="stroke-width:14"/><ellipse cx="1497" cy="365" rx="7" ry="12" class="k"/>
<path d="M1585,280 L1480,772" class="th" style="stroke-width:7.2"/>
<!-- guard cage + wheel (coords of 7.177x zoom at 260,790) -->
<g transform="translate(-56.4,620.3) scale(0.7857)" style="stroke-width:12.2">
<path d="M370,240 L590,145 L830,240 C1000,400 1150,650 1170,900 L1160,1000 L1040,1150 L960,1175" style="stroke-width:13.2"/>
<path d="M410,80 L440,130 L600,150 M420,190 L470,120"/>
<path d="M585,150 L600,330 M605,150 L622,330" style="stroke-width:14.4"/>
<path d="M370,240 L600,205 L830,240 M380,255 L600,220"/>
<path d="M600,330 L830,380 L1040,480 M610,345 L830,395"/>
<path d="M820,240 L830,560 M842,245 L850,565" style="stroke-width:14.4"/>
<path d="M830,560 L1130,700 M835,580 L1130,720" style="stroke-width:13.2"/>
<path d="M1040,480 L960,860 M1020,480 L945,850"/>
<path d="M960,860 L1160,990 M950,880 L1150,1010" style="stroke-width:15.6"/>
<path d="M1160,780 L960,1150 M1140,790 L945,1140"/>
<path d="M960,1150 L1040,1180 L1040,1150"/>
<ellipse cx="610" cy="800" rx="587" ry="339" transform="rotate(61.2 610 800)" class="w" style="stroke-width:13.2"/>
<ellipse cx="565" cy="780" rx="587" ry="339" transform="rotate(61.2 565 780)" class="w" style="stroke-width:14.4"/>
<ellipse cx="566" cy="782" rx="560" ry="318" transform="rotate(61.2 566 782)"/>
<ellipse cx="567" cy="784" rx="532" ry="297" transform="rotate(61.2 567 784)" style="stroke-width:16.8" stroke-dasharray="45 30 20 30"/>
<ellipse cx="568" cy="786" rx="502" ry="274" transform="rotate(61.2 568 786)" style="stroke-width:15.6"/>
<ellipse cx="570" cy="788" rx="470" ry="250" transform="rotate(61.2 570 788)"/>
<ellipse cx="572" cy="790" rx="438" ry="228" transform="rotate(61.2 572 790)" style="stroke-width:20.4" stroke-dasharray="700 60 200 50"/>
<ellipse cx="574" cy="792" rx="402" ry="204" transform="rotate(61.2 574 792)"/>
<ellipse cx="600" cy="790" rx="300" ry="150" transform="rotate(61.2 600 790)"/>
<ellipse cx="585" cy="795" rx="232" ry="116" transform="rotate(61.2 585 795)"/>
<ellipse cx="570" cy="798" rx="160" ry="80" transform="rotate(61.2 570 798)" style="stroke-width:16.8"/>
<ellipse cx="558" cy="800" rx="105" ry="52" transform="rotate(61.2 558 800)" style="stroke-width:18.0"/>
<ellipse cx="550" cy="800" rx="62" ry="32" transform="rotate(61.2 550 800)" style="stroke-width:14.4"/>
<ellipse cx="545" cy="800" rx="30" ry="16" transform="rotate(61.2 545 800)"/>
<path d="M230,585 L330,530 M300,870 L480,780 M600,700 L720,640" />
<path d="M680,330 L800,270 M905,535 L1040,465" />
<path d="M0,715 L150,640 M0,1050 L240,925" stroke-dasharray="200 60"/>
</g>


</g>

<!-- 53_m4.svg -->
<g clip-path="url(#cM4)">
<g class="t" transform="translate(550,560) scale(0.177327)" style="stroke-width:9.8">
<path d="M570,920 L880,855" style="stroke-width:8.4"/>
<!-- vertical dashed -->
<path d="M683,90 L683,510 M683,590 L683,700 M683,790 L683,890 M683,985 L683,1390" style="stroke-width:13.2"/>
<path d="M1202,0 L1202,1100" stroke-dasharray="170 35" style="stroke-width:10.8"/>
<path d="M830,0 L830,270 L1055,145 L1055,0"/>
<path d="M695,75 L830,0" style="stroke-width:15.6"/>
<path d="M692,90 L692,300"/>
<!-- bracket with hole -->
<path d="M855,420 L1020,335 L1030,325 L1030,345 L1130,410 L1130,465 L1090,495 L1010,490 L985,560 L920,610 L860,580 Z" style="stroke-width:12.0"/>
<ellipse cx="1045" cy="440" rx="65" ry="35" style="stroke-width:12.0"/>
<path d="M1025,410 L1025,475 M880,430 L900,452 L985,492 M862,560 L920,592 M900,452 L890,560"/>
<!-- arcs around 46 -->
<path d="M810,860 C810,780 870,730 930,740 C980,750 1000,770 1000,790" stroke-dasharray="110 30"/>
<path d="M1025,840 C1030,950 1000,1040 960,1100"/>
<path d="M945,1110 L990,1090 L985,1185 L1045,1180 L1050,1235"/>
<path d="M810,965 C800,1050 780,1100 800,1140 C830,1180 900,1180 890,1230 C880,1280 860,1290 830,1310 L830,1480 L850,1492"/>
<!-- rivet -->
<ellipse cx="908" cy="805" rx="32" ry="18" style="stroke-width:12.0"/>
<path d="M890,825 L890,925 L925,925 L925,825"/>
<path d="M908,935 L908,1130" stroke-dasharray="80 25"/>
<path d="M880,1145 L905,1130 L930,1145 L905,1160 Z" class="k"/>
<!-- base -->
<path d="M1060,1232 L1100,1150 L1585,888" style="stroke-width:12.0"/>
<path d="M830,1340 L1050,1235 L1250,1330"/>
<path d="M690,1392 L790,1340 L830,1362"/>
<path d="M350,1585 L690,1402" style="stroke-width:15.6" stroke-dasharray="200 40 40 40"/>
<path d="M0,1490 L120,1585" style="stroke-width:15.6"/>
<ellipse cx="1040" cy="1340" rx="110" ry="60" style="stroke-width:12.0"/>
<path d="M990,1362 L1080,1320 L1142,1350 M990,1362 L1000,1395"/>
<ellipse cx="1130" cy="1295" rx="25" ry="10" transform="rotate(20 1130 1295)" style="stroke-width:12.0"/>
<ellipse cx="945" cy="1395" rx="20" ry="9" transform="rotate(20 945 1395)" style="stroke-width:12.0"/>
<circle cx="770" cy="1445" r="33" style="stroke-width:13.2"/><circle cx="770" cy="1445" r="16" class="k"/>
<circle cx="1150" cy="1225" r="24" style="stroke-width:14.4"/>
<path d="M480,1365 L505,1350 L530,1365 L505,1380 Z"/>
<path d="M830,1480 L1585,1100" stroke-dasharray="160 40"/>
<path d="M850,1430 L1250,1585" stroke-dasharray="200 40 40 40"/>
<path d="M1060,1400 L1400,1585" stroke-dasharray="120 40"/>
<!-- right side -->
<path d="M1205,590 L1340,665" style="stroke-width:15.6"/>
<path d="M1340,665 L1585,792" style="stroke-width:14.4" stroke-dasharray="90 30"/>
<path d="M1205,750 L1585,962 M1230,740 L1585,935" stroke-dasharray="100 30"/>
<path d="M1205,890 L1350,970 C1380,958 1420,958 1440,972 M1205,890 L1205,1100"/>
<path d="M1390,0 L1250,612"/>
<path d="M1480,0 L1350,662" style="stroke-width:13.2" stroke-dasharray="180 35 35 35"/>
<ellipse cx="1225" cy="690" rx="20" ry="35" class="k"/>
<path d="M1100,1160 L1585,905" stroke-dasharray="260 40 40 40" style="stroke-width:13.2"/>
<path d="M1230,1232 L1480,1118 M1250,1250 L1480,1140"/>
<path d="M1585,1180 L1300,1340" stroke-dasharray="120 40"/>
<path d="M1585,1290 L1150,1500" stroke-dasharray="160 40"/>
<ellipse cx="1455" cy="1480" rx="45" ry="40" style="stroke-width:13.2"/><ellipse cx="1440" cy="1485" rx="32" ry="30"/>
<path d="M1320,1490 L1400,1540 L1440,1525 M1320,1490 L1350,1480 L1410,1510"/>
<!-- left -->
<path d="M0,60 L60,100" style="stroke-width:15.6"/>
<path d="M100,130 L120,262 L200,302 L340,236" style="stroke-width:14.4"/>
<path d="M120,0 L130,60 L180,40 L215,30 L280,190 L370,240 L392,226"/>
<path d="M240,60 C300,80 350,130 380,212" style="stroke-width:15.6"/>
<ellipse cx="320" cy="45" rx="7" ry="12"/>
<path d="M370,140 L700,-25"/>
<path d="M400,230 L670,95" style="stroke-width:14.4" stroke-dasharray="140 35"/>
<path d="M490,190 L490,280 C500,322 540,332 556,300 L556,210" style="stroke-width:14.4"/>
<path d="M520,240 C510,280 520,300 540,295"/>
<path d="M560,240 L682,302" style="stroke-width:15.6"/>
<path d="M610,240 L660,92 M630,235 L672,100"/>
<path d="M280,302 L350,262 L690,432 M290,320 L682,455"/>
<path d="M300,322 C320,300 350,310 360,332 L440,385" style="stroke-width:14.4"/>
<ellipse cx="485" cy="398" rx="16" ry="8" class="k"/>
<path d="M280,310 L420,590 M350,420 L400,580"/>
<path d="M350,420 L682,592" style="stroke-width:15.6"/>
<path d="M440,490 L440,580 M462,500 L462,570 M490,505 L490,560 M530,522 L530,550"/>
<ellipse cx="400" cy="632" rx="30" ry="15"/><ellipse cx="80" cy="310" rx="22" ry="30"/>
<path d="M130,300 L0,985" style="stroke-width:13.2" stroke-dasharray="160 35"/>
<path d="M120,402 L282,322 M110,445 L290,350"/>
<path d="M0,805 L420,592" stroke-dasharray="130 35"/>
<path d="M60,742 L400,602" stroke-dasharray="130 35"/>

</g>
</g>

<!-- 54_m5.svg -->
<g clip-path="url(#cM5)">
<g class="t" transform="translate(550,830) scale(0.177327)" style="stroke-width:9.8">
<path d="M405,955 L530,1010 M285,1280 L510,1215 M480,1500 L545,1385" style="stroke-width:8.4"/>
<!-- beam -->
<path d="M0,20 L200,112" style="stroke-width:19.2"/>
<path d="M0,150 L240,275 M220,130 L225,165 L240,160 L240,275 M250,140 L370,200"/>
<path d="M0,250 L90,202" style="stroke-width:14.4"/>
<path d="M230,125 L480,0" style="stroke-width:14.4"/>
<path d="M240,275 L370,345" style="stroke-width:13.2"/>
<path d="M400,365 L500,420 M530,440 L680,512 M700,530 L760,556 M840,600 L950,656" style="stroke-width:14.4"/>
<path d="M380,205 L440,240 M470,255 L640,342 M760,400 L800,420 M830,440 L990,520 M1040,545 L1300,680" style="stroke-width:14.4"/>
<path d="M460,180 L700,50 L742,50 L810,100" style="stroke-width:14.4"/>
<path d="M460,180 L770,380 L765,396 L715,390 L715,378"/>
<path d="M715,170 L715,380" stroke-dasharray="120 30"/>
<path d="M715,170 L900,80 L1000,30" stroke-dasharray="90 30"/>
<ellipse cx="722" cy="480" rx="24" ry="33"/><ellipse cx="790" cy="515" rx="24" ry="33"/>
<path d="M522,360 L546,352 L550,380 L526,388 Z" class="k"/><path d="M866,538 L892,530 L896,560 L870,566 Z" class="k"/>
<!-- dashed verticals -->
<path d="M900,200 L900,760 L550,960" stroke-dasharray="120 35"/>
<path d="M1045,920 L1045,1585" stroke-dasharray="120 35" style="stroke-width:10.8"/>
<!-- detail pointer -->
<path d="M1585,-105 L1020,642" style="stroke-width:8.4"/>
<path d="M985,700 C930,800 800,950 660,1055" stroke-dasharray="190 40"/>
<!-- side plate -->
<path d="M955,560 L975,545 L1270,690 C1300,710 1310,760 1290,800 L1290,830 L1360,885" />
<path d="M985,558 L1265,702 C1285,720 1292,760 1278,800 L1278,838 L1350,895 L1370,1000"/>
<path d="M955,560 L955,760 L1045,920"/>
<ellipse cx="990" cy="620" rx="24" ry="34"/><ellipse cx="1025" cy="765" rx="34" ry="45" style="stroke-width:12.0"/><ellipse cx="1228" cy="740" rx="24" ry="32"/>
<path d="M1080,975 L1100,958 L1125,970 L1128,1000 L1105,1015 L1082,1002 Z"/>
<path d="M965,545 L965,400 C965,380 980,360 1020,352 L1240,380 L1480,250 L1585,292" style="stroke-width:13.2"/>
<path d="M1020,352 L1020,200"/>
<ellipse cx="1225" cy="425" rx="55" ry="22" transform="rotate(25 1225 425)" style="stroke-width:12.0"/>
<path d="M1310,560 L1310,820 L1585,832 M1310,560 L1332,545 L1585,572" style="stroke-width:13.2"/>
<ellipse cx="1380" cy="625" rx="32" ry="20"/><path d="M1360,712 L1380,702 L1400,712 L1380,722 Z" class="k"/>
<path d="M1000,470 L1300,620" stroke-dasharray="130 35"/>
<!-- top right -->
<path d="M910,155 L1000,200 L1070,185 L1100,185 L1330,320" style="stroke-width:14.4"/>
<ellipse cx="1022" cy="185" rx="20" ry="14" style="stroke-width:12.0"/>
<path d="M1022,60 L1022,170" class="th" style="stroke-width:7.2"/>
<path d="M1440,130 L1585,205" style="stroke-width:14.4"/>
<ellipse cx="1545" cy="180" rx="35" ry="45" style="stroke-width:15.6"/>
<path d="M1040,0 L1400,182 M1150,0 L1460,160" stroke-dasharray="130 35"/>
<path d="M1330,320 L1585,190" style="stroke-width:13.2"/>
<path d="M1380,-20 L1585,80" stroke-dasharray="60 30" style="stroke-width:13.2"/>
<!-- lower right panel -->
<path d="M1090,1045 L1130,1030 L1165,1085 L1330,1120 L1420,1420 L1250,1440 L1240,1480 L1210,1500 Z" style="stroke-width:12.0"/>
<path d="M1105,1045 L1222,1490 M1120,1040 L1235,1480"/>
<circle cx="1305" cy="1150" r="14"/><circle cx="1370" cy="1400" r="14"/><circle cx="1105" cy="1215" r="12"/>
<ellipse cx="1250" cy="1535" rx="22" ry="28"/><ellipse cx="1325" cy="1568" rx="22" ry="28"/>
<ellipse cx="1475" cy="1265" rx="52" ry="64" transform="rotate(-15 1475 1265)" class="k"/>
<path d="M1370,860 C1370,1000 1450,1100 1585,1150 M1392,860 C1395,980 1465,1070 1585,1125"/>
<path d="M1400,840 L1400,900 M1440,900 L1500,860 L1520,910 M1450,880 L1480,915"/>
<path d="M1075,1560 L1120,1585" style="stroke-width:16.8"/>
<!-- clamp 43 -->
<ellipse cx="608" cy="1085" rx="45" ry="56" transform="rotate(-20 608 1085)" style="stroke-width:15.6"/>
<ellipse cx="598" cy="1090" rx="32" ry="44" transform="rotate(-20 598 1090)"/>
<path d="M535,1020 L560,1005 L590,1015 L575,1040 L545,1040 Z" class="k"/>
<path d="M550,965 L550,1170 M550,1240 L550,1320"/>
<!-- washer 45 -->
<ellipse cx="555" cy="1200" rx="42" ry="24" style="stroke-width:13.2"/><ellipse cx="555" cy="1200" rx="18" ry="10"/>
<!-- nut 44 -->
<path d="M530,1335 L548,1322 L570,1330 L572,1362 L552,1375 L532,1365 Z" style="stroke-width:14.4"/>
<path d="M0,1105 C200,1140 400,1160 540,1120" stroke-dasharray="120 35"/>
</g>
</g>

<!-- 55_m7.svg -->
<g clip-path="url(#cM7)">
<g class="t" transform="translate(830,700) scale(0.177327)" style="stroke-width:9.8">
<path d="M700,145 L6,628" style="stroke-width:9.0"/>
<path d="M113,334 L0,398" stroke-dasharray="100 35"/>
<!-- top-left -->
<path d="M0,30 L60,60 L190,120 M60,60 L0,112" style="stroke-width:14.4"/>
<path d="M95,80 L100,200 M100,140 L80,210 M100,150 L120,212"/>
<!-- top plate -->
<path d="M100,640 L350,500 L590,622" style="stroke-width:14.4"/>
<path d="M100,640 L330,762 M150,742 L330,826" style="stroke-width:14.4"/>
<path d="M0,650 L50,700 L100,660"/>
<path d="M520,320 L700,430 L745,410 L830,462" style="stroke-width:14.4"/>
<path d="M700,430 L750,560 L640,612 L490,700 L460,760 L330,830" style="stroke-width:14.4"/>
<circle cx="540" cy="430" r="26" style="stroke-width:15.6"/><circle cx="540" cy="430" r="10" class="k"/>
<circle cx="605" cy="465" r="26" style="stroke-width:15.6"/><circle cx="605" cy="465" r="10" class="k"/>
<path d="M678,500 L692,482 L704,502 L690,520 Z"/>
<ellipse cx="840" cy="540" rx="55" ry="20" transform="rotate(30 840 540)" style="stroke-width:12.0"/>
<ellipse cx="575" cy="572" rx="14" ry="9" class="k"/><ellipse cx="295" cy="415" rx="14" ry="9" class="k"/><path d="M615,600 L640,590 L650,605 L625,615 Z" class="k"/>
<path d="M300,345 L700,580 M335,345 L720,570" stroke-dasharray="100 30"/>
<path d="M830,462 L1060,600" style="stroke-width:14.4" stroke-dasharray="60 25"/>
<!-- lower plate -->
<path d="M1060,600 L1085,770 L900,910 L880,1020 L600,1180 L560,1160" style="stroke-width:13.2"/>
<path d="M1050,620 L1078,690 L1082,740" />
<path d="M490,700 L500,760 L880,958 M500,720 L890,925"/>
<path d="M600,760 L870,900 M640,760 L880,880" stroke-dasharray="110 30" style="stroke-width:12.0"/>
<path d="M1085,770 L1100,980 L1260,1070 L1270,1160 L1030,1340 L880,1340 L680,1440 L690,1530 L580,1585" style="stroke-width:13.2"/>
<ellipse cx="1180" cy="1135" rx="32" ry="22"/>
<ellipse cx="1020" cy="960" rx="16" ry="10" class="k"/><ellipse cx="1005" cy="860" rx="14" ry="8" class="k"/><ellipse cx="935" cy="910" rx="14" ry="8" class="k"/>
<path d="M1085,790 C1150,830 1170,860 1180,900 C1200,1000 1240,1050 1270,1075 L1420,1160 L1400,1400 L1390,1585"/>
<path d="M1100,800 C1150,840 1160,870 1170,910 C1190,1000 1230,1060 1262,1085 L1405,1170 L1385,1400"/>
<path d="M1270,1180 L1400,1290 L1380,1585 M1285,1210 L1365,1290 L1395,1500"/>
<!-- motor hub -->
<ellipse cx="445" cy="1032" rx="125" ry="70" style="stroke-width:12.0"/>
<path d="M320,1035 L322,1100 C340,1150 400,1172 450,1170 C510,1168 560,1140 572,1100 L570,1035" style="stroke-width:12.0"/>
<ellipse cx="445" cy="1028" rx="96" ry="52" style="stroke-width:16.8"/>
<ellipse cx="445" cy="1022" rx="66" ry="36" style="stroke-width:16.8"/>
<path d="M410,940 L410,1015 M480,940 L480,1015"/><ellipse cx="445" cy="940" rx="35" ry="17"/><ellipse cx="448" cy="940" rx="10" ry="6"/>
<path d="M410,1015 C420,1030 470,1030 480,1015"/>
<path d="M220,950 L480,810 L690,862 M230,962 L330,1020"/>
<path d="M560,940 L690,850 L700,900 M690,850 L700,842 L700,900 L590,985" style="stroke-width:13.2"/>
<path d="M560,940 L565,1002 M600,1000 L850,1010" />
<path d="M580,1160 L850,1010 L880,1022" style="stroke-width:13.2"/>
<path d="M850,1070 L855,1180 L770,1236 L720,1210"/>
<path d="M190,1130 L320,1200 L320,1345 M0,1010 L190,1130" style="stroke-width:12.0"/>
<path d="M0,1290 L40,1310 L300,1200" style="stroke-width:14.4"/>
<path d="M320,1345 L380,1320 L560,1222 L600,1182"/>
<path d="M380,1320 L380,1440 L400,1440 L520,1360 L540,1300" style="stroke-width:13.2"/>
<path d="M140,1290 L370,1432 M400,1330 L400,1440"/>
<path d="M0,902 L60,872" style="stroke-width:14.4"/>
<path d="M0,1000 L330,822" style="stroke-width:15.6" stroke-dasharray="120 35"/>
<path d="M30,1050 L200,1140" stroke-dasharray="60 30"/>
<ellipse cx="260" cy="1090" rx="20" ry="12" class="k"/><ellipse cx="630" cy="1095" rx="20" ry="12" class="k"/><ellipse cx="445" cy="1195" rx="20" ry="12" class="k"/>
<path d="M560,1230 C600,1280 640,1290 660,1260" />
<path d="M540,1300 L700,1200" stroke-dasharray="80 30"/>
<!-- bottom -->
<path d="M880,1340 L880,1585" style="stroke-width:13.2" stroke-dasharray="140 35"/>
<path d="M940,1350 L970,1420 L960,1585 M915,1345 L915,1585"/>
<path d="M1060,1330 L1130,1460 L1140,1585" style="stroke-width:14.4"/>
<path d="M1010,1350 L1010,1585 M1010,1400 L1120,1480"/>
<path d="M1120,1385 L1175,1362 M1125,1400 L1185,1378"/><ellipse cx="1120" cy="1392" rx="8" ry="12"/>
<circle cx="1030" cy="1500" r="24" style="stroke-width:15.6"/><circle cx="1100" cy="1540" r="24" style="stroke-width:15.6"/>
<path d="M1190,1230 L1240,1530 L1340,1585"/>
</g>
</g>

<!-- 56_m8.svg -->
<g clip-path="url(#cM8)">
<g class="t" transform="translate(810,960) scale(0.177327)" style="stroke-width:9.8">
<!-- left structure -->
<path d="M0,100 L140,105 L300,200 L430,210 L520,170" style="stroke-width:13.2"/>
<path d="M300,200 L180,450 M160,230 L160,440 M0,110 C30,98 60,100 90,130 M120,130 L200,180"/>
<path d="M20,140 L40,180 L10,185 M130,140 L170,190 L230,180" />
<path d="M0,160 C40,260 100,230 120,160"/>
<path d="M180,455 L250,445 C265,450 268,470 268,482 L265,620 L245,640 L165,640 Z" style="stroke-width:12.0"/>
<path d="M205,460 L195,635"/>
<path d="M125,845 L205,850 C225,860 226,880 222,900 L205,990 L120,1000 Z" style="stroke-width:12.0"/>
<path d="M150,860 L135,1000"/>
<path d="M160,642 L130,842" style="stroke-width:13.2" stroke-dasharray="25 12"/>
<path d="M0,330 C60,400 120,430 180,450" style="stroke-width:13.2"/>
<circle cx="-5" cy="540" r="62" class="k"/>
<path d="M110,1000 L100,1085 L0,1050"/>
<ellipse cx="75" cy="945" rx="20" ry="30"/><ellipse cx="8" cy="915" rx="18" ry="28"/>
<path d="M475,345 L380,540" style="stroke-width:15.6"/>
<path d="M370,560 L200,840" style="stroke-width:15.6" stroke-dasharray="120 30"/>
<path d="M430,210 L400,282 L475,345"/>
<circle cx="432" cy="282" r="20" style="stroke-width:14.4"/>
<ellipse cx="425" cy="155" rx="30" ry="18"/>
<!-- wheel/hub/guard in 7.895x coords (860,980) -->
<g transform="translate(282,112.8) scale(0.7143)" style="stroke-width:13.5">
<path d="M335,100 L335,880" stroke-dasharray="200 35 50 35" style="stroke-width:14"/>
<path d="M375,80 L375,320 L400,300 L405,880"/>
<path d="M120,630 C200,700 262,820 222,930" style="stroke-width:16"/>
<path d="M140,655 C212,722 240,820 205,925"/>
<circle cx="150" cy="825" r="26" style="stroke-width:17"/><circle cx="35" cy="890" r="26" style="stroke-width:17"/>
<path d="M0,1010 C100,1082 250,1082 320,1000 L335,880 M0,940 C60,960 150,950 205,928"/>
<path d="M150,580 L280,330" style="stroke-width:17"/>
<path d="M280,330 L170,240 L340,85"/>
<circle cx="215" cy="235" r="32" style="stroke-width:17"/>
<path d="M0,830 L100,700" style="stroke-width:17" stroke-dasharray="90 40"/>
<ellipse cx="200" cy="55" rx="45" ry="27"/>
<path d="M0,110 L180,132 L340,85"/>
<path d="M390,70 L600,-5" style="stroke-width:18" stroke-dasharray="80 35"/>
<!-- tire -->
<path d="M400,300 C560,360 720,560 700,900 C690,1000 640,1100 560,1170 C480,1222 380,1200 300,1150 L150,1060"/>
<path d="M440,290 C620,380 760,600 735,1000 L672,1100"/>
<path d="M420,330 C580,420 690,600 668,900 C655,1000 620,1080 540,1132"/>
<path d="M180,1070 C300,1180 450,1232 560,1170 M230,1060 C330,1140 450,1170 540,1132"/>
<path d="M280,1040 C360,1100 450,1120 520,1090" stroke-dasharray="90 30"/>
<path d="M320,1010 C380,1052 450,1070 510,1040"/>
<path d="M590,660 C642,760 642,900 590,1010" style="stroke-width:20"/>
<path d="M622,650 C672,760 670,900 625,1000" style="stroke-width:15"/>
<path d="M560,680 C600,780 600,900 560,990" style="stroke-width:14"/>
<path d="M420,330 L470,400 M430,380 L490,450" style="stroke-width:18"/>
<path d="M520,470 L545,530 M560,470 L585,520 M560,570 L575,630 M600,560 L615,610 M640,580 L655,640" style="stroke-width:20"/>
<path d="M405,480 C470,520 500,640 470,740 C450,772 420,770 405,750"/>
<path d="M405,420 L480,470 C540,560 560,700 545,820 C520,880 460,900 405,880"/>
<path d="M430,960 C480,960 540,920 560,860" style="stroke-width:22"/>
<path d="M380,1000 C440,1010 520,980 560,920"/>
<!-- guard -->
<path d="M630,170 L610,480 L830,590 L940,650 M652,175 L632,470" style="stroke-width:15"/>
<path d="M630,170 L760,110 L800,130 L790,170 M400,300 L630,170"/>
<path d="M660,165 L690,230 L830,300 L900,285 L906,300 L830,322"/>
<path d="M760,110 L830,300 M740,125 L812,305" style="stroke-width:12"/>
<path d="M520,240 L830,322 M530,225 L690,232" style="stroke-width:12"/>
<path d="M830,300 L850,400 L940,640 M850,400 L890,440 L950,460 L952,482 L890,470"/>
<path d="M830,322 L730,810 L900,930 M850,330 L752,800" style="stroke-width:16"/>
<path d="M940,660 C962,780 920,900 870,1000 L690,1110 L672,1100"/>
<path d="M730,810 L940,700 M900,930 L690,1100 M940,650 L905,925" />
<path d="M740,830 L900,945" style="stroke-width:18"/>
<!-- column -->
<path d="M1000,0 L1000,230 L905,290"/>
<path d="M1045,0 L1045,560" style="stroke-width:15" stroke-dasharray="160 35"/>
<path d="M1110,0 L1110,180" style="stroke-width:17" stroke-dasharray="120 35"/>
<path d="M1110,180 L1120,480 C1100,560 1050,610 1000,632 L940,656"/>
<path d="M1020,470 L1120,400"/>
</g>
<!-- right structures -->



<path d="M1095,190 L1200,220 L1250,250 C1270,280 1270,300 1265,400 L1200,450 L1150,420 L1095,280" style="stroke-width:13.2"/>
<path d="M1200,220 L1200,440"/>
<circle cx="1145" cy="340" r="24" style="stroke-width:14.4"/>
<path d="M1120,0 L1130,110 L1250,160 L1250,0" />
<circle cx="1145" cy="40" r="22" style="stroke-width:14.4"/><circle cx="1210" cy="75" r="22" style="stroke-width:14.4"/>
<ellipse cx="1145" cy="130" rx="22" ry="9" transform="rotate(25 1145 130)"/>
<path d="M1238,0 L1238,150" style="stroke-width:15.6"/>
<path d="M1340,60 L1440,110 L1450,300 L1340,250 Z"/>
<circle cx="1350" cy="160" r="22" style="stroke-width:14.4"/><circle cx="1410" cy="195" r="22" style="stroke-width:14.4"/>
<path d="M1440,110 L1500,70 L1510,0 M1450,300 L1480,130 M1265,290 L1300,270 L1420,320 L1450,300"/>
<path d="M1445,120 L1452,290" style="stroke-width:15.6"/>
</g>
</g>

<!-- 57_m6.svg -->
<g clip-path="url(#cM6)">
<g class="t" transform="translate(740,360) scale(0.228)" style="stroke-width:7.7">
<path d="M110,95 C180,70 290,100 330,200 L375,220 L380,470" style="stroke-width:8.4"/>
<ellipse cx="330" cy="280" rx="30" ry="14" transform="rotate(-38 330 280)" style="stroke-width:10.8"/>
<path d="M375,280 L430,315 L400,470 M380,300 L415,325 L388,460"/>
<path d="M378,300 L400,340 L376,385 Z" class="k"/>
<path d="M380,470 L455,515 L455,525"/>
<path d="M455,520 L285,612" style="stroke-width:10.8"/>
<path d="M380,470 L0,655" stroke-dasharray="130 30"/>
<path d="M300,612 L255,820" style="stroke-width:9.6"/>
<path d="M255,820 L232,925" style="stroke-width:9.6" stroke-dasharray="60 18 15 18"/>
<path d="M385,570 L300,980" style="stroke-width:10.2" stroke-dasharray="110 22 22 22"/>
</g>
</g>

<!-- 58_m9.svg -->
<g clip-path="url(#cM9)">
<g class="t" transform="translate(430,340) scale(0.164661)" style="stroke-width:10.4">
<!-- rails phantom lines -->
<path d="M160,600 L290,535 M300,530 L330,515 M360,500 L400,480 M440,462 L600,380 M640,360 L660,350 M700,330 L720,322 M760,300 L930,215 M950,205 L990,185" style="stroke-width:16" stroke-linecap="butt"/>
<path d="M105,648 L1250,75" stroke-dasharray="150 30 40 30" stroke-linecap="butt"/>
<path d="M330,565 L1340,60" stroke-dasharray="260 35" stroke-linecap="butt"/>
<path d="M250,628 L650,428"/>
<path d="M690,408 L1400,52" stroke-dasharray="170 35 40 35" stroke-linecap="butt"/>
<path d="M660,442 L1210,166" stroke-dasharray="200 40" stroke-linecap="butt"/>
<path d="M700,468 L1000,318" stroke-dasharray="120 35" stroke-linecap="butt"/>
<path d="M1010,130 L1045,112" style="stroke-width:16"/>
<path d="M1005,135 L1050,0 M1150,0 L1175,40 L1250,10 M1240,0 L1270,95 M1130,160 L1170,120 L1200,130"/>
<path d="M1090,85 L1240,5" style="stroke-width:15"/>
<path d="M625,352 C650,360 668,395 680,428 M650,340 L625,352 L640,400 M655,410 L690,395"/>
<path d="M980,285 C1010,290 1030,322 1036,352"/>
<!-- upper right slot -->
<path d="M1350,230 L1365,150 C1385,120 1500,50 1545,40 C1570,60 1582,100 1585,140"/>
<path d="M1375,215 L1388,160 C1420,130 1500,80 1540,70 M1390,150 L1545,62"/>
<!-- rect cutout -->
<path d="M865,445 L1215,262 L1220,300 M865,445 L880,592 L860,662 L940,642"/>
<path d="M880,585 L1195,428 M885,600 L1200,445" style="stroke-width:13"/>
<path d="M860,662 L1100,537 L1195,492 L1205,455 L1195,428"/>
<path d="M945,640 C940,672 980,692 1030,652 C1070,612 1090,572 1100,540 M965,640 C965,660 990,668 1020,640 C1050,612 1065,580 1075,550"/>
<!-- left slot -->
<path d="M520,762 L515,640 C520,610 540,596 560,590 L700,520 C730,542 745,600 745,672" style="stroke-width:12"/>
<path d="M545,748 L540,650 C545,626 560,616 580,608 L690,555 M560,622 L700,548"/>
<path d="M745,672 L750,620 L865,565 M745,672 L860,610"/>
<!-- end cap of handle bend -->
<path d="M205,965 C170,900 132,820 140,790 C145,750 180,726 215,716 L560,545" style="stroke-width:11"/>
<path d="M225,950 C192,890 155,825 160,795 C165,765 192,745 225,735 L350,672"/>
<path d="M205,965 L520,800 L545,748"/>
<path d="M355,650 L392,842 M400,635 L432,822"/>
<path d="M200,892 C300,872 380,850 520,772"/>
<path d="M0,700 C40,690 100,700 140,720 M20,790 C10,760 30,720 70,705"/>
<path d="M20,635 L95,635" style="stroke-width:14" stroke-dasharray="50 25"/>
<path d="M95,635 L160,600" style="stroke-width:14"/>
<path d="M0,880 L140,885"/>
<!-- cowl -->
<path d="M405,895 L345,1160 L285,1095 L275,1075 L215,1060"/>
<path d="M205,965 L405,895"/>
<path d="M345,1160 L545,1046 C575,1026 585,986 600,966 C640,930 700,905 760,870"/>
<path d="M755,866 L880,802 M930,776 L1215,636" stroke-linecap="butt"/>
<path d="M530,1260 L700,1170 M720,1156 L970,1016" stroke-linecap="butt"/>
<path d="M1215,600 L1235,598 L1225,720"/>
<!-- engine plate -->
<path d="M870,1400 L860,1290 L930,1225 L975,1010 L1060,880 L1190,805 L1225,750 L1210,720 L1225,610" style="stroke-width:12"/>
<path d="M1225,750 L1240,762 L1585,590" style="stroke-width:11"/>
<ellipse cx="930" cy="1300" rx="40" ry="19" transform="rotate(-30 930 1300)" style="stroke-width:12"/>
<ellipse cx="1445" cy="700" rx="40" ry="19" transform="rotate(-30 1445 700)" style="stroke-width:12"/>
<ellipse cx="1262" cy="815" rx="10" ry="16" transform="rotate(15 1262 815)"/><ellipse cx="1070" cy="1395" rx="10" ry="16" transform="rotate(15 1070 1395)"/>
<ellipse cx="1265" cy="1110" rx="205" ry="292" transform="rotate(20 1265 1110)" style="stroke-width:12" stroke-dasharray="900 40 60 40"/>
<path d="M1412,852 C1452,902 1472,982 1442,1112" style="stroke-width:12" stroke-dasharray="70 25"/>
<path d="M1395,860 C1430,910 1448,980 1425,1100 L1440,1110"/>
<ellipse cx="1405" cy="1165" rx="11" ry="15"/><ellipse cx="1446" cy="1186" rx="11" ry="15"/>
<ellipse cx="1335" cy="1260" rx="18" ry="16" class="k"/>
<path d="M870,1400 L960,1365 L1000,1480 L1150,1585 M960,1365 L985,1400"/>
<path d="M990,1400 C1060,1420 1110,1480 1140,1562" style="stroke-width:15"/>
<path d="M1520,762 L1520,1250 L1585,1282 M1150,1482 L1520,1292" />
<path d="M1540,770 L1585,900" style="stroke-width:14" stroke-dasharray="80 25"/>
<!-- top bracket -->
<path d="M1095,400 L1110,385 L1440,215 L1585,215 M1095,400 L1100,425 L1195,455"/>
<path d="M1195,440 L1430,455 C1470,470 1500,510 1520,545 L1525,600 L1585,570" style="stroke-width:11"/>
<ellipse cx="1160" cy="385" rx="18" ry="8" class="k"/><ellipse cx="1290" cy="335" rx="16" ry="7" class="k"/><ellipse cx="1440" cy="230" rx="16" ry="7" class="k"/>
<ellipse cx="1475" cy="320" rx="34" ry="18" transform="rotate(-12 1475 320)"/><ellipse cx="1475" cy="320" rx="18" ry="9" class="k"/><ellipse cx="1495" cy="350" rx="12" ry="5" class="k"/>
<path d="M1300,455 L1345,615 M1520,520 L1585,490 M1530,545 L1530,600 M1540,560 L1585,540"/>
<!-- side panel top flange -->
<path d="M200,1085 L250,1100 L600,1305 M330,1180 L380,1176 L400,1210 L440,1240 L450,1230 L470,1252 M500,1270 L530,1276 L540,1310 L600,1350"/>
<path d="M215,1125 L560,1340" style="stroke-width:15"/>
<path d="M600,1305 L640,1330 M560,1340 L620,1380" style="stroke-width:13"/>
</g>
</g>

<!-- 60_d1.svg -->
<g class="t" transform="translate(1000,1050) scale(0.19)" style="stroke-width:8.7">
<path d="M480,175 L730,300 M395,370 L745,408 M425,655 L720,600 M548,965 L695,888" style="stroke-width:8.0"/>
<!-- bolt 1 -->
<ellipse cx="780" cy="222" rx="35" ry="20" style="stroke-width:12.6"/><ellipse cx="780" cy="220" rx="16" ry="8" class="k"/>
<path d="M745,225 L745,242 C760,258 800,258 815,242 L815,225" style="stroke-width:11.5"/>
<path d="M762,255 L762,345 L798,345 L798,255"/>
<!-- washer 2 -->
<ellipse cx="778" cy="412" rx="40" ry="22" style="stroke-width:11.5"/><ellipse cx="778" cy="412" rx="15" ry="8" style="stroke-width:11.5"/>
<path d="M778,360 L778,386 M778,440 L778,480"/>
<path d="M778,650 L778,1205" stroke-dasharray="85 28"/>
<!-- p-clamp 3 -->
<g id="pclamp" transform="translate(526.3,52.6) scale(0.8)" style="stroke-width:10.5">
<path d="M318,640 C295,590 330,535 385,535 L430,548" style="stroke-width:14"/>
<ellipse cx="402" cy="625" rx="55" ry="82" transform="rotate(25 402 625)" class="w" style="stroke-width:13"/>
<path d="M335,650 C315,600 345,550 395,546 M352,656 C336,612 360,564 405,558" style="stroke-width:11"/>
<path d="M318,640 L300,685 M352,656 L345,700 L380,716 C420,700 445,672 455,640"/>
<ellipse cx="305" cy="706" rx="38" ry="24" class="w" style="stroke-width:15"/><ellipse cx="305" cy="706" rx="17" ry="9" style="stroke-width:12"/>
</g>
<!-- clip 4 -->
<path d="M690,822 L745,790 L800,808 L790,830 L838,845 L790,885 L745,865 Z" style="stroke-width:11.5"/>
<path d="M690,822 L745,865" style="stroke-width:14.9"/>
<ellipse cx="775" cy="840" rx="18" ry="10"/>
<path d="M745,790 L745,812 L790,830"/>
<!-- bolt 2 -->
<ellipse cx="918" cy="722" rx="35" ry="20" style="stroke-width:12.6"/><ellipse cx="918" cy="720" rx="16" ry="8" class="k"/>
<path d="M883,725 L883,742 C898,758 938,758 953,742 L953,725" style="stroke-width:11.5"/>
<path d="M900,755 L900,845 L935,845 L935,755"/>
<ellipse cx="912" cy="932" rx="38" ry="20" style="stroke-width:11.5"/><ellipse cx="912" cy="932" rx="14" ry="7" style="stroke-width:11.5"/>
<path d="M912,860 L912,905 M912,960 L912,992"/>
<path d="M912,1150 L912,1205" stroke-dasharray="85 28"/>
<use href="#pclamp" transform="translate(134.4,504)"/>
<!-- detail A outline top -->







</g>

<!-- 61_d2.svg -->
<g class="t" transform="translate(980,1279) scale(0.2)" style="stroke-width:8.3">
<path d="M700,40 C600,40 480,140 380,190 C250,240 130,300 105,380 C80,480 200,600 175,700 C150,780 60,830 85,900 C100,940 150,940 145,1000 C140,1100 250,1240 420,1290 C520,1320 620,1330 700,1335 C800,1350 900,1420 1000,1470 C1100,1500 1200,1440 1300,1380 C1400,1320 1520,1280 1550,1180 C1560,1100 1480,1000 1440,850 C1410,720 1450,600 1460,450 C1470,380 1470,300 1420,270 C1300,240 1150,250 1000,150 C900,90 800,40 700,40 Z"/>
<!-- thick ridge line -->
<path d="M390,200 L560,275 M700,340 L840,400 M975,465 L1130,535 M1260,595 L1430,670" style="stroke-width:13.8"/>
<path d="M580,285 L690,335 M860,410 L960,455 M1150,545 L1240,585" style="stroke-width:13.8" stroke-dasharray="35 20"/>
<!-- hole -->
<ellipse cx="350" cy="345" rx="145" ry="80" style="stroke-width:10.9"/>
<path d="M270,400 L400,325 L492,362 M270,400 L286,412 M400,325 L410,298 M286,412 L400,345 L470,385"/>
<path d="M285,412 C330,440 430,430 482,382"/>
<ellipse cx="475" cy="280" rx="32" ry="13" transform="rotate(25 475 280)" style="stroke-width:10.3"/>
<ellipse cx="230" cy="412" rx="35" ry="15" transform="rotate(25 230 412)" style="stroke-width:10.3"/><ellipse cx="222" cy="408" rx="14" ry="7" transform="rotate(25 222 408)"/>
<!-- left dashed -->
<path d="M100,390 L140,412"/>
<path d="M105,435 L850,925" stroke-dasharray="90 28"/>
<path d="M200,430 L440,582" stroke-dasharray="70 25"/>
<path d="M290,560 L700,792" stroke-dasharray="220 30"/>
<path d="M720,810 L900,915" stroke-dasharray="120 30"/>
<!-- rect slots -->
<path d="M710,550 L745,530 L830,585 L795,605 Z M845,770 L880,750 L965,800 L930,820 Z"/>
<circle cx="838" cy="606" r="10" style="stroke-width:10.3"/><circle cx="970" cy="822" r="10" style="stroke-width:10.3"/>
<path d="M838,0 L838,592" stroke-dasharray="85 28"/>
<path d="M968,0 L968,808" stroke-dasharray="85 28"/>
<!-- clip -->
<path d="M890,300 L945,268 L1000,286 L990,306 L1030,322 L985,360 L935,340 Z" style="stroke-width:10.9"/>
<path d="M890,300 L935,340 L940,352 L985,372 L985,360" />
<ellipse cx="968" cy="322" rx="14" ry="12" style="stroke-width:11.5"/>
<!-- right -->
<path d="M1460,320 L1200,465 L1430,600 M1455,338 L1225,465"/>
<path d="M1430,755 L1060,965 M1425,780 L1070,980" stroke-dasharray="120 30 40 30"/>
<path d="M1340,900 L1140,1010"/>
<path d="M1380,880 L1480,950 M1360,900 L1460,972"/>
<!-- bottom plate -->
<path d="M180,790 L320,865 L400,825 L490,875 M185,802 L320,878 L400,840 L480,885" />
<ellipse cx="330" cy="826" rx="28" ry="18" style="stroke-width:10.3"/><ellipse cx="330" cy="826" rx="16" ry="9"/>
<path d="M500,880 L740,1010 M495,895 L735,1025" stroke-dasharray="50 25"/>
<path d="M325,870 L325,1050" stroke-dasharray="110 30"/>
<path d="M325,1050 L620,1090 L740,1022 M620,1098 L745,1030"/>
<path d="M740,1020 L940,915" style="stroke-width:12.6" stroke-dasharray="60 25"/>
<path d="M940,915 L1130,1015 M950,908 L1140,1008" style="stroke-width:10.3"/>
<path d="M1130,1015 L1300,1110" style="stroke-width:12.6" stroke-dasharray="50 22"/>
<path d="M1300,1110 L1480,1215 M1310,1102 L1485,1205"/>
<path d="M325,1050 L270,1075 C250,1090 248,1120 255,1150"/>
<path d="M270,1090 L720,1320 M255,1150 L700,1335" stroke-dasharray="130 30"/>
<path d="M720,1320 L1110,1355 M730,1308 L1110,1343" stroke-dasharray="110 25"/>
<path d="M1110,1350 L1470,1225 M1112,1362 L1475,1240" stroke-dasharray="80 25"/>
<path d="M700,1335 L730,1308 M1480,1215 L1485,1282 M1470,1225 L1475,1275 M1300,1290 L1380,1330 M1310,1282 L1390,1322"/>
<ellipse cx="590" cy="1160" rx="82" ry="28" transform="rotate(28 590 1160)" style="stroke-width:10.9"/>
<ellipse cx="1415" cy="1065" rx="30" ry="18" style="stroke-width:10.3"/><ellipse cx="1415" cy="1062" rx="15" ry="8"/>
<path d="M1340,1120 L1400,1085 M1345,1132 L1405,1095 M1440,1080 L1440,1150 M1425,1085 L1425,1155"/>
<path d="M1490,1035 C1475,1070 1485,1110 1510,1135" style="stroke-width:14.9"/>
</g>

<!-- 90_labels.svg -->
<g id="labels" opacity="0.999">
<text x="1316" y="34.3" font-size="22.3" textLength="255" lengthAdjust="spacingAndGlyphs">Before SN 1000154281</text>
<text x="1449.9" y="120.4" font-size="22.0">14</text>
<text x="1373.5" y="170.0" font-size="22.0">16</text>
<text x="1328.7" y="193.5" font-size="22.0">13</text>
<text x="1505.8" y="189.7" font-size="22.0">15</text>
<text x="1463.5" y="370.2" font-size="22.0">9</text>
<text x="1338.6" y="383.0" font-size="22.0">8</text>
<text x="1492.6" y="408.0" font-size="22.0">5</text>
<text x="1520.0" y="456.6" font-size="22.0">10</text>
<text x="1213.9" y="489.9" font-size="22.0">12</text>
<text x="1219.0" y="549.0" font-size="22.0">13</text>
<text x="1369.2" y="570.1" font-size="22.0">11</text>
<text x="1509.6" y="579.9" font-size="22.0">33</text>
<text x="1340.6" y="614.5" font-size="22.0">29</text>
<text x="1514.9" y="637.4" font-size="22.0">30</text>
<text x="1500.7" y="661.4" font-size="22.0">35</text>
<text x="1474.3" y="684.2" font-size="22.0">32</text>
<text x="1450.8" y="712.6" font-size="22.0">31</text>
<text x="1414.8" y="736.9" font-size="22.0">34</text>
<text x="1203.8" y="638.0" font-size="22.0">19</text>
<text x="1376.6" y="763.0" font-size="22.0">13</text>
<text x="986.8" y="244.7" font-size="22.0">28</text>
<text x="1119.0" y="226.5" font-size="22.0">5</text>
<text x="1183.9" y="299.2" font-size="22.0">7</text>
<text x="882.4" y="369.6" font-size="22.0">28</text>
<text x="1059.0" y="375.9" font-size="22.0">6</text>
<text x="1072.4" y="424.6" font-size="22.0">24</text>
<text x="1084.3" y="470.9" font-size="22.0">23</text>
<text x="1112.2" y="494.2" font-size="22.0">22</text>
<text x="854.6" y="506.4" font-size="22.0">5</text>
<text x="1091.9" y="557.6" font-size="22.0">21</text>
<text x="888.5" y="586.7" font-size="22.0">25</text>
<text x="99.3" y="865.8" font-size="26.0">36</text>
<text x="36.0" y="935.8" font-size="26.0">37</text>
<text x="43.6" y="979.8" font-size="26.0">18</text>
<text x="0.5" y="1019.8" font-size="26.0">5</text>
<text x="3.0" y="1088.2" font-size="26.0">38</text>
<text x="93.0" y="1164.8" font-size="26.0">17</text>
<text x="280.0" y="1032.5" font-size="26.0">20</text>
<text x="197.6" y="1220.2" font-size="26.0">39</text>
<text x="245.0" y="1263.6" font-size="26.0">40</text>
<text x="311.0" y="1288.1" font-size="26.0">41</text>
<text x="462.0" y="1251.6" font-size="26.0">42</text>
<text x="471.7" y="1208.8" font-size="26.0">5</text>
<text x="475.0" y="966.6" font-size="26.0">47</text>
<text x="619.2" y="730.8" font-size="26.0">46</text>
<text x="591.0" y="1008.4" font-size="26.0">43</text>
<text x="572.2" y="1068.2" font-size="26.0">45</text>
<text x="606.5" y="1114.3" font-size="26.0">44</text>
<text x="1071.8" y="1085.4" font-size="22.8">1</text>
<text x="1054.7" y="1129.5" font-size="22.8">2</text>
<text x="1062.3" y="1186.1" font-size="22.8">3</text>
<text x="1084.5" y="1247.7" font-size="22.8">4</text>
<text transform="translate(1148.70,376.50) scale(1.0401,1)" font-size="21.8">TO</text>
<text transform="translate(1148.30,402.30) scale(0.9912,1)" font-size="21.8">SOLENOID</text>
<text transform="translate(1393.80,501.60) scale(1.0401,1)" font-size="21.8">TO</text>
<text transform="translate(1393.80,526.20) scale(0.9762,1)" font-size="21.8">TANK</text>
<text transform="translate(961.50,711.60) scale(0.9977,1)" font-size="21.8">SEE</text>
<text transform="translate(961.50,736.00) scale(0.9688,1)" font-size="21.8">DETAIL 'A'</text>
<text transform="translate(979.80,1578.30) scale(0.9642,1)" font-size="21.8">DETAIL 'A'</text>
</g>
<!-- 95_bottom.svg -->
<line x1="0" y1="1578.5" x2="1600" y2="1578.5" stroke="#dcdcdc" stroke-width="1" stroke-dasharray="1 1"/>

</svg>
</body></html>
